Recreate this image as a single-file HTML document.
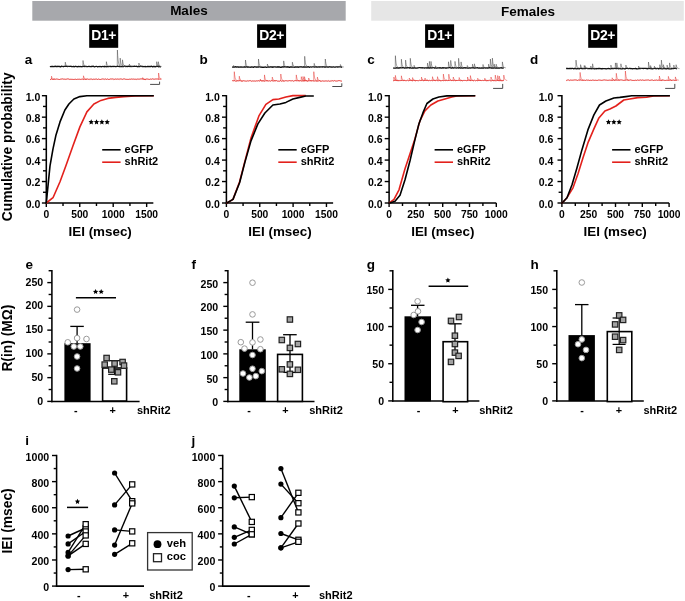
<!DOCTYPE html>
<html><head><meta charset="utf-8"><style>
html,body{margin:0;padding:0;background:#fff;}
svg{display:block;font-family:"Liberation Sans", sans-serif;filter:blur(0.3px);}
</style></head><body>
<svg width="685" height="601" viewBox="0 0 685 601">
<rect width="685" height="601" fill="#fff"/>
<rect x="32.3" y="1" width="313.4" height="19.7" fill="#a7a8ac"/>
<rect x="371.2" y="1" width="312.6" height="19.7" fill="#e6e6e6"/>
<text x="188.90" y="15.20" font-size="13.5" font-weight="bold" text-anchor="middle" fill="#000" >Males</text>
<text x="528.00" y="15.60" font-size="13.5" font-weight="bold" text-anchor="middle" fill="#000" >Females</text>
<rect x="89.2" y="24.3" width="29" height="23.5" fill="#000"/>
<text x="103.70" y="39.90" font-size="13.9" font-weight="bold" text-anchor="middle" fill="#fff" letter-spacing="-0.4">D1+</text>
<rect x="257.1" y="24.3" width="29" height="23.5" fill="#000"/>
<text x="271.60" y="39.90" font-size="13.9" font-weight="bold" text-anchor="middle" fill="#fff" letter-spacing="-0.4">D2+</text>
<rect x="425.1" y="24.3" width="29" height="23.5" fill="#000"/>
<text x="439.60" y="39.90" font-size="13.9" font-weight="bold" text-anchor="middle" fill="#fff" letter-spacing="-0.4">D1+</text>
<rect x="588.2" y="24.3" width="29" height="23.5" fill="#000"/>
<text x="602.70" y="39.90" font-size="13.9" font-weight="bold" text-anchor="middle" fill="#fff" letter-spacing="-0.4">D2+</text>
<polyline points="50.00,66.28 50.60,66.71 51.20,66.66 51.81,66.35 52.41,66.50 53.01,66.47 53.61,66.59 54.22,66.67 54.82,66.26 55.42,66.22 56.02,66.70 56.62,66.46 57.23,66.66 57.83,66.20 58.43,66.47 59.03,66.63 59.63,66.34 60.24,66.77 60.84,66.74 61.44,66.22 62.04,66.22 62.65,66.52 63.25,66.76 63.85,66.43 64.45,66.33 65.05,66.45 65.66,66.22 66.26,66.33 66.86,66.46 67.46,66.50 68.07,66.34 68.67,66.34 69.27,66.33 69.87,66.48 70.47,66.37 71.08,66.21 71.68,66.70 72.28,66.53 72.88,66.59 73.48,66.31 74.09,66.80 74.69,66.72 75.29,66.27 75.89,66.40 76.50,66.63 77.10,66.63 77.70,66.76 78.30,66.45 78.90,66.70 79.51,66.60 80.11,66.38 80.71,66.55 81.31,66.73 81.92,66.71 82.52,66.50 83.12,66.55 83.72,66.22 84.32,66.35 84.93,66.68 85.53,66.45 86.13,66.30 86.73,66.53 87.33,66.62 87.94,66.60 88.54,66.42 89.14,66.46 89.74,66.51 90.35,66.67 90.95,66.51 91.55,66.44 92.15,66.49 92.75,66.22 93.36,66.23 93.96,66.62 94.56,66.79 95.16,66.56 95.77,66.44 96.37,66.30 96.97,66.50 97.57,66.79 98.17,66.66 98.78,66.52 99.38,66.72 99.98,66.34 100.58,66.51 101.18,66.77 101.79,66.55 102.39,66.48 102.99,66.36 103.59,66.53 104.20,66.77 104.80,66.20 105.40,66.67 106.00,66.69 106.60,66.73 107.21,66.64 107.81,66.69 108.41,66.51 109.01,66.54 109.62,66.46 110.22,66.23 110.82,66.72 111.42,66.54 112.02,66.32 112.63,66.50 113.23,66.49 113.83,66.41 114.43,66.41 115.03,66.52 115.64,66.57 116.24,66.57 116.84,66.47 117.44,66.22 118.05,66.34 118.65,66.31 119.25,66.55 119.85,66.72 120.45,66.68 121.06,66.68 121.66,66.69 122.26,66.35 122.86,66.71 123.47,66.60 124.07,66.25 124.67,66.21 125.27,66.21 125.87,66.65 126.48,66.35 127.08,66.27 127.68,66.57 128.28,66.41 128.88,66.24 129.49,66.30 130.09,66.52 130.69,66.30 131.29,66.36 131.90,66.63 132.50,66.47 133.10,66.39 133.70,66.48 134.30,66.21 134.91,66.43 135.51,66.45 136.11,66.31 136.71,66.27 137.32,66.74 137.92,66.51 138.52,66.33 139.12,66.56 139.72,66.69 140.33,66.21 140.93,66.21 141.53,66.29 142.13,66.63 142.73,66.30 143.34,66.62 143.94,66.61 144.54,66.53 145.14,66.33 145.75,66.79 146.35,66.68 146.95,66.51 147.55,66.33 148.15,66.59 148.76,66.44 149.36,66.55 149.96,66.39 150.56,66.58 151.17,66.24 151.77,66.38 152.37,66.78 152.97,66.73 153.57,66.38 154.18,66.72 154.78,66.39 155.38,66.76 155.98,66.65 156.58,66.45 157.19,66.35 157.79,66.21 158.39,66.73 158.99,66.22 159.60,66.69 160.20,66.78 160.80,66.54" fill="none" stroke="#111" stroke-width="1.3" stroke-linejoin="round"/>
<polyline points="65.15,66.50 65.30,62.20 65.60,63.62 66.00,64.81 66.50,65.63 67.10,66.11 67.90,66.37 68.70,66.45" fill="none" stroke="#444" stroke-width="0.5" stroke-linejoin="miter"/>
<polyline points="82.85,66.50 83.00,60.50 83.30,62.48 83.70,64.14 84.20,65.29 84.80,65.96 85.60,66.31 86.40,66.44" fill="none" stroke="#444" stroke-width="0.5" stroke-linejoin="miter"/>
<polyline points="106.25,66.50 106.40,61.70 106.70,63.28 107.10,64.61 107.60,65.53 108.20,66.06 109.00,66.35 109.80,66.45" fill="none" stroke="#444" stroke-width="0.5" stroke-linejoin="miter"/>
<polyline points="117.25,66.50 117.40,50.00 117.70,55.44 118.10,60.01 118.60,63.17 119.20,65.00 120.00,65.98 120.80,66.32" fill="none" stroke="#444" stroke-width="0.5" stroke-linejoin="miter"/>
<polyline points="120.05,66.50 120.20,58.10 120.50,60.87 120.90,63.20 121.40,64.80 122.00,65.74 122.80,66.24 123.60,66.41" fill="none" stroke="#444" stroke-width="0.5" stroke-linejoin="miter"/>
<polyline points="122.35,66.50 122.50,59.80 122.80,62.01 123.20,63.87 123.70,65.15 124.30,65.89 125.10,66.29 125.90,66.43" fill="none" stroke="#444" stroke-width="0.5" stroke-linejoin="miter"/>
<polyline points="129.25,66.50 129.40,64.00 129.70,64.82 130.10,65.52 130.60,66.00 131.20,66.27 132.00,66.42 132.80,66.47" fill="none" stroke="#444" stroke-width="0.5" stroke-linejoin="miter"/>
<polyline points="138.75,66.50 138.90,63.00 139.20,64.15 139.60,65.12 140.10,65.79 140.70,66.18 141.50,66.39 142.30,66.46" fill="none" stroke="#444" stroke-width="0.5" stroke-linejoin="miter"/>
<polyline points="156.55,66.50 156.70,61.70 157.00,63.28 157.40,64.61 157.90,65.53 158.50,66.06 159.30,66.35 160.10,66.45" fill="none" stroke="#444" stroke-width="0.5" stroke-linejoin="miter"/>
<polyline points="158.15,66.50 158.30,61.70 158.60,63.28 159.00,64.61 159.50,65.53 160.10,66.06 160.90,66.35 161.70,66.45" fill="none" stroke="#444" stroke-width="0.5" stroke-linejoin="miter"/>
<polyline points="50.00,79.47 50.60,79.47 51.20,78.93 51.81,78.95 52.41,79.40 53.01,79.34 53.61,79.30 54.22,79.08 54.82,79.26 55.42,79.26 56.02,79.25 56.62,79.00 57.23,79.16 57.83,79.14 58.43,79.33 59.03,79.50 59.63,79.47 60.24,79.23 60.84,79.17 61.44,79.06 62.04,78.92 62.65,78.92 63.25,79.18 63.85,79.09 64.45,79.13 65.05,79.44 65.66,79.22 66.26,79.24 66.86,79.04 67.46,78.91 68.07,79.10 68.67,78.98 69.27,79.21 69.87,79.50 70.47,79.30 71.08,79.01 71.68,79.44 72.28,79.38 72.88,79.34 73.48,79.44 74.09,79.36 74.69,79.37 75.29,79.11 75.89,79.49 76.50,79.48 77.10,79.00 77.70,79.35 78.30,79.33 78.90,79.18 79.51,79.22 80.11,79.19 80.71,79.45 81.31,79.20 81.92,79.40 82.52,79.11 83.12,79.43 83.72,79.44 84.32,79.18 84.93,79.24 85.53,79.45 86.13,79.33 86.73,79.19 87.33,79.03 87.94,79.09 88.54,79.32 89.14,79.00 89.74,79.44 90.35,79.06 90.95,79.45 91.55,79.09 92.15,79.47 92.75,79.32 93.36,79.20 93.96,79.21 94.56,79.29 95.16,79.25 95.77,79.09 96.37,79.02 96.97,79.21 97.57,79.46 98.17,79.27 98.78,78.95 99.38,79.39 99.98,79.34 100.58,79.44 101.18,79.01 101.79,79.35 102.39,78.94 102.99,79.29 103.59,79.06 104.20,79.04 104.80,79.43 105.40,78.96 106.00,79.21 106.60,79.41 107.21,79.05 107.81,79.03 108.41,79.43 109.01,79.15 109.62,79.33 110.22,78.92 110.82,79.12 111.42,79.00 112.02,79.30 112.63,78.95 113.23,79.47 113.83,78.92 114.43,79.34 115.03,78.91 115.64,79.05 116.24,79.39 116.84,78.99 117.44,79.01 118.05,79.31 118.65,79.13 119.25,78.93 119.85,79.49 120.45,78.99 121.06,78.92 121.66,79.11 122.26,79.27 122.86,79.35 123.47,78.97 124.07,79.10 124.67,78.92 125.27,79.17 125.87,79.36 126.48,79.34 127.08,79.44 127.68,79.35 128.28,79.42 128.88,79.32 129.49,79.18 130.09,79.04 130.69,79.30 131.29,79.09 131.90,78.96 132.50,79.17 133.10,79.42 133.70,78.98 134.30,79.25 134.91,79.14 135.51,79.21 136.11,78.99 136.71,79.48 137.32,79.06 137.92,79.26 138.52,79.15 139.12,78.91 139.72,79.23 140.33,78.98 140.93,78.93 141.53,78.92 142.13,79.00 142.73,78.96 143.34,79.28 143.94,79.20 144.54,79.49 145.14,79.46 145.75,79.50 146.35,79.04 146.95,79.17 147.55,79.05 148.15,79.25 148.76,79.27 149.36,79.38 149.96,79.33 150.56,79.05 151.17,79.15 151.77,79.22 152.37,78.90 152.97,78.92 153.57,79.15 154.18,78.97 154.78,79.33 155.38,79.04 155.98,78.96 156.58,79.01 157.19,79.04 157.79,79.03 158.39,79.21 158.99,79.18 159.60,79.09 160.20,79.29 160.80,79.03" fill="none" stroke="#e3211c" stroke-width="0.95" stroke-linejoin="round"/>
<polyline points="51.35,79.20 51.50,76.20 51.80,77.19 52.20,78.02 52.70,78.59 53.30,78.93 54.10,79.11 54.90,79.17" fill="none" stroke="#e3211c" stroke-width="0.45" stroke-linejoin="miter"/>
<polyline points="83.35,79.20 83.50,75.80 83.80,76.92 84.20,77.86 84.70,78.51 85.30,78.89 86.10,79.09 86.90,79.16" fill="none" stroke="#e3211c" stroke-width="0.45" stroke-linejoin="miter"/>
<polyline points="142.55,79.20 142.70,77.60 143.00,78.13 143.40,78.57 143.90,78.88 144.50,79.05 145.30,79.15 146.10,79.18" fill="none" stroke="#e3211c" stroke-width="0.45" stroke-linejoin="miter"/>
<polyline points="158.45,79.20 158.60,73.00 158.90,75.04 159.30,76.76 159.80,77.95 160.40,78.64 161.20,79.01 162.00,79.13" fill="none" stroke="#e3211c" stroke-width="0.45" stroke-linejoin="miter"/>
<polyline points="150.1,84.4 159.6,84.4 159.6,81.6" fill="none" stroke="#4a4a4a" stroke-width="1"/>
<polyline points="232.10,66.84 232.70,67.03 233.30,66.92 233.90,67.06 234.50,67.08 235.10,66.74 235.70,66.71 236.30,67.20 236.90,66.86 237.50,66.84 238.11,67.30 238.71,66.98 239.31,67.20 239.91,66.99 240.51,67.08 241.11,66.79 241.71,67.08 242.31,67.22 242.91,67.01 243.51,67.14 244.11,67.10 244.71,66.74 245.31,67.15 245.91,67.05 246.51,66.88 247.11,66.72 247.71,67.22 248.31,66.98 248.92,67.13 249.52,67.23 250.12,67.13 250.72,67.25 251.32,66.94 251.92,67.18 252.52,66.97 253.12,67.26 253.72,67.23 254.32,66.76 254.92,66.78 255.52,66.83 256.12,67.28 256.72,66.96 257.32,67.08 257.92,66.88 258.52,67.00 259.12,66.93 259.73,66.91 260.33,67.05 260.93,67.05 261.53,67.24 262.13,67.11 262.73,67.26 263.33,67.21 263.93,67.29 264.53,67.10 265.13,66.80 265.73,67.22 266.33,67.28 266.93,67.24 267.53,67.04 268.13,67.13 268.73,66.83 269.33,67.20 269.93,67.04 270.53,66.87 271.14,66.74 271.74,67.21 272.34,67.29 272.94,66.75 273.54,67.18 274.14,66.95 274.74,66.79 275.34,66.88 275.94,67.16 276.54,67.22 277.14,66.73 277.74,67.07 278.34,66.73 278.94,67.13 279.54,66.90 280.14,67.23 280.74,67.29 281.34,67.00 281.95,67.30 282.55,66.89 283.15,66.75 283.75,67.06 284.35,66.72 284.95,66.82 285.55,66.94 286.15,67.07 286.75,66.79 287.35,66.73 287.95,67.22 288.55,66.89 289.15,67.28 289.75,67.24 290.35,66.93 290.95,66.98 291.55,67.01 292.15,67.09 292.76,67.06 293.36,67.04 293.96,67.07 294.56,67.26 295.16,67.00 295.76,66.96 296.36,67.13 296.96,66.84 297.56,66.88 298.16,67.29 298.76,67.01 299.36,67.03 299.96,66.71 300.56,66.95 301.16,67.05 301.76,66.71 302.36,67.07 302.96,67.08 303.57,66.74 304.17,67.08 304.77,66.98 305.37,67.11 305.97,66.91 306.57,67.12 307.17,67.14 307.77,66.71 308.37,66.74 308.97,67.11 309.57,67.28 310.17,66.85 310.77,66.97 311.37,67.06 311.97,66.89 312.57,66.92 313.17,66.89 313.77,66.92 314.37,67.06 314.98,66.88 315.58,66.93 316.18,67.16 316.78,66.72 317.38,67.04 317.98,67.14 318.58,66.89 319.18,66.83 319.78,67.18 320.38,66.84 320.98,66.81 321.58,66.96 322.18,67.12 322.78,66.76 323.38,66.89 323.98,66.90 324.58,67.20 325.18,66.96 325.79,67.21 326.39,66.80 326.99,66.90 327.59,67.09 328.19,67.23 328.79,66.97 329.39,66.84 329.99,66.77 330.59,67.02 331.19,66.81 331.79,67.18 332.39,67.20 332.99,66.81 333.59,66.87 334.19,67.18 334.79,67.09 335.39,67.18 335.99,66.91 336.60,66.78 337.20,66.88 337.80,67.18 338.40,66.86 339.00,66.91 339.60,66.95 340.20,66.95 340.80,66.95 341.40,67.25 342.00,66.79" fill="none" stroke="#111" stroke-width="1.3" stroke-linejoin="round"/>
<polyline points="233.45,67.00 233.60,65.40 233.90,65.93 234.30,66.37 234.80,66.68 235.40,66.85 236.20,66.95 237.00,66.98" fill="none" stroke="#444" stroke-width="0.5" stroke-linejoin="miter"/>
<polyline points="245.35,67.00 245.50,60.00 245.80,62.31 246.20,64.25 246.70,65.59 247.30,66.36 248.10,66.78 248.90,66.92" fill="none" stroke="#444" stroke-width="0.5" stroke-linejoin="miter"/>
<polyline points="258.35,67.00 258.50,59.00 258.80,61.64 259.20,63.85 259.70,65.38 260.30,66.27 261.10,66.75 261.90,66.91" fill="none" stroke="#444" stroke-width="0.5" stroke-linejoin="miter"/>
<polyline points="267.25,67.00 267.40,64.00 267.70,64.99 268.10,65.82 268.60,66.39 269.20,66.73 270.00,66.91 270.80,66.97" fill="none" stroke="#444" stroke-width="0.5" stroke-linejoin="miter"/>
<polyline points="283.55,67.00 283.70,60.90 284.00,62.91 284.40,64.60 284.90,65.77 285.50,66.45 286.30,66.81 287.10,66.93" fill="none" stroke="#444" stroke-width="0.5" stroke-linejoin="miter"/>
<polyline points="292.25,67.00 292.40,62.20 292.70,63.78 293.10,65.11 293.60,66.03 294.20,66.56 295.00,66.85 295.80,66.95" fill="none" stroke="#444" stroke-width="0.5" stroke-linejoin="miter"/>
<polyline points="304.55,67.00 304.70,56.30 305.00,59.83 305.40,62.79 305.90,64.84 306.50,66.03 307.30,66.67 308.10,66.89" fill="none" stroke="#444" stroke-width="0.5" stroke-linejoin="miter"/>
<polyline points="314.05,67.00 314.20,63.40 314.50,64.59 314.90,65.58 315.40,66.27 316.00,66.67 316.80,66.89 317.60,66.96" fill="none" stroke="#444" stroke-width="0.5" stroke-linejoin="miter"/>
<polyline points="325.15,67.00 325.30,59.00 325.60,61.64 326.00,63.85 326.50,65.38 327.10,66.27 327.90,66.75 328.70,66.91" fill="none" stroke="#444" stroke-width="0.5" stroke-linejoin="miter"/>
<polyline points="340.25,67.00 340.40,64.50 340.70,65.32 341.10,66.02 341.60,66.50 342.20,66.77 343.00,66.92 343.80,66.97" fill="none" stroke="#444" stroke-width="0.5" stroke-linejoin="miter"/>
<polyline points="232.10,80.74 232.70,80.66 233.30,80.84 233.90,80.69 234.50,80.64 235.10,80.84 235.70,81.15 236.30,81.08 236.90,81.06 237.50,80.73 238.11,80.92 238.71,80.77 239.31,80.70 239.91,80.66 240.51,80.73 241.11,81.16 241.71,81.10 242.31,81.08 242.91,81.08 243.51,80.72 244.11,80.79 244.71,80.98 245.31,81.04 245.91,81.11 246.51,81.13 247.11,80.65 247.71,80.96 248.31,81.00 248.92,80.90 249.52,80.71 250.12,80.88 250.72,80.65 251.32,81.16 251.92,81.12 252.52,80.93 253.12,80.78 253.72,81.15 254.32,80.94 254.92,81.13 255.52,81.11 256.12,80.91 256.72,80.85 257.32,80.96 257.92,80.86 258.52,80.70 259.12,80.78 259.73,81.09 260.33,80.63 260.93,80.63 261.53,80.98 262.13,80.77 262.73,80.92 263.33,80.88 263.93,80.81 264.53,81.20 265.13,80.72 265.73,80.85 266.33,80.72 266.93,80.98 267.53,80.77 268.13,80.81 268.73,81.05 269.33,80.79 269.93,80.94 270.53,81.14 271.14,80.66 271.74,80.64 272.34,80.74 272.94,81.06 273.54,80.97 274.14,80.74 274.74,80.80 275.34,80.71 275.94,80.88 276.54,80.63 277.14,81.02 277.74,81.14 278.34,81.17 278.94,81.04 279.54,81.18 280.14,80.61 280.74,80.77 281.34,81.18 281.95,81.07 282.55,80.85 283.15,81.17 283.75,80.97 284.35,81.09 284.95,80.78 285.55,80.71 286.15,80.87 286.75,80.68 287.35,80.83 287.95,81.18 288.55,80.80 289.15,80.61 289.75,80.63 290.35,80.70 290.95,81.07 291.55,80.82 292.15,80.77 292.76,80.66 293.36,81.19 293.96,80.85 294.56,80.72 295.16,80.64 295.76,80.63 296.36,80.70 296.96,81.01 297.56,80.69 298.16,80.62 298.76,80.89 299.36,80.75 299.96,81.20 300.56,80.67 301.16,80.92 301.76,81.06 302.36,80.85 302.96,81.19 303.57,80.89 304.17,80.75 304.77,80.85 305.37,80.62 305.97,80.85 306.57,80.75 307.17,81.13 307.77,81.10 308.37,80.90 308.97,80.62 309.57,80.75 310.17,80.75 310.77,80.72 311.37,80.74 311.97,81.12 312.57,80.69 313.17,80.63 313.77,81.16 314.37,80.94 314.98,81.19 315.58,80.84 316.18,81.14 316.78,80.99 317.38,81.07 317.98,81.05 318.58,80.90 319.18,80.66 319.78,80.73 320.38,81.12 320.98,81.14 321.58,81.15 322.18,80.80 322.78,80.99 323.38,81.08 323.98,80.99 324.58,81.09 325.18,80.92 325.79,80.99 326.39,81.01 326.99,80.76 327.59,81.15 328.19,81.17 328.79,80.64 329.39,81.18 329.99,81.18 330.59,81.00 331.19,80.63 331.79,81.14 332.39,80.68 332.99,81.18 333.59,81.00 334.19,80.64 334.79,80.70 335.39,80.98 335.99,80.94 336.60,81.05 337.20,81.16 337.80,80.73 338.40,80.60 339.00,81.15 339.60,80.61 340.20,81.13 340.80,80.67 341.40,81.09 342.00,81.07" fill="none" stroke="#e3211c" stroke-width="0.95" stroke-linejoin="round"/>
<polyline points="234.15,80.90 234.30,71.70 234.60,74.73 235.00,77.28 235.50,79.04 236.10,80.07 236.90,80.61 237.70,80.80" fill="none" stroke="#e3211c" stroke-width="0.45" stroke-linejoin="miter"/>
<polyline points="239.15,80.90 239.30,76.20 239.60,77.75 240.00,79.05 240.50,79.95 241.10,80.47 241.90,80.75 242.70,80.85" fill="none" stroke="#e3211c" stroke-width="0.45" stroke-linejoin="miter"/>
<polyline points="260.15,80.90 260.30,79.00 260.60,79.63 261.00,80.15 261.50,80.52 262.10,80.73 262.90,80.84 263.70,80.88" fill="none" stroke="#e3211c" stroke-width="0.45" stroke-linejoin="miter"/>
<polyline points="264.35,80.90 264.50,74.90 264.80,76.88 265.20,78.54 265.70,79.69 266.30,80.36 267.10,80.71 267.90,80.84" fill="none" stroke="#e3211c" stroke-width="0.45" stroke-linejoin="miter"/>
<polyline points="272.15,80.90 272.30,77.10 272.60,78.35 273.00,79.41 273.50,80.13 274.10,80.56 274.90,80.78 275.70,80.86" fill="none" stroke="#e3211c" stroke-width="0.45" stroke-linejoin="miter"/>
<polyline points="280.65,80.90 280.80,74.00 281.10,76.27 281.50,78.19 282.00,79.51 282.60,80.27 283.40,80.68 284.20,80.83" fill="none" stroke="#e3211c" stroke-width="0.45" stroke-linejoin="miter"/>
<polyline points="296.15,80.90 296.30,74.90 296.60,76.88 297.00,78.54 297.50,79.69 298.10,80.36 298.90,80.71 299.70,80.84" fill="none" stroke="#e3211c" stroke-width="0.45" stroke-linejoin="miter"/>
<polyline points="301.15,80.90 301.30,76.70 301.60,78.08 302.00,79.25 302.50,80.05 303.10,80.52 303.90,80.77 304.70,80.85" fill="none" stroke="#e3211c" stroke-width="0.45" stroke-linejoin="miter"/>
<polyline points="302.85,80.90 303.00,76.50 303.30,77.95 303.70,79.17 304.20,80.01 304.80,80.50 305.60,80.76 306.40,80.85" fill="none" stroke="#e3211c" stroke-width="0.45" stroke-linejoin="miter"/>
<polyline points="304.35,80.90 304.50,76.70 304.80,78.08 305.20,79.25 305.70,80.05 306.30,80.52 307.10,80.77 307.90,80.85" fill="none" stroke="#e3211c" stroke-width="0.45" stroke-linejoin="miter"/>
<polyline points="308.55,80.90 308.70,78.00 309.00,78.96 309.40,79.76 309.90,80.31 310.50,80.64 311.30,80.81 312.10,80.87" fill="none" stroke="#e3211c" stroke-width="0.45" stroke-linejoin="miter"/>
<polyline points="313.65,80.90 313.80,71.70 314.10,74.73 314.50,77.28 315.00,79.04 315.60,80.07 316.40,80.61 317.20,80.80" fill="none" stroke="#e3211c" stroke-width="0.45" stroke-linejoin="miter"/>
<polyline points="317.25,80.90 317.40,77.10 317.70,78.35 318.10,79.41 318.60,80.13 319.20,80.56 320.00,80.78 320.80,80.86" fill="none" stroke="#e3211c" stroke-width="0.45" stroke-linejoin="miter"/>
<polyline points="332.3,86.5 341.8,86.5 341.8,83.3" fill="none" stroke="#4a4a4a" stroke-width="1"/>
<polyline points="393.10,67.97 393.70,68.05 394.30,68.08 394.90,68.17 395.51,68.04 396.11,68.15 396.71,67.62 397.31,67.88 397.91,68.17 398.51,67.99 399.12,68.14 399.72,67.67 400.32,67.88 400.92,67.75 401.52,67.93 402.12,67.94 402.73,67.61 403.33,67.73 403.93,67.77 404.53,68.15 405.13,68.06 405.73,67.70 406.34,68.08 406.94,67.68 407.54,67.97 408.14,67.68 408.74,67.60 409.34,68.12 409.95,67.73 410.55,67.73 411.15,68.19 411.75,68.12 412.35,67.77 412.95,68.18 413.56,67.92 414.16,68.01 414.76,67.72 415.36,68.16 415.96,68.01 416.56,68.18 417.17,68.14 417.77,67.78 418.37,67.82 418.97,67.70 419.57,67.69 420.17,67.64 420.78,67.78 421.38,67.96 421.98,67.60 422.58,68.01 423.18,67.80 423.78,67.79 424.38,68.09 424.99,67.89 425.59,67.79 426.19,67.89 426.79,68.02 427.39,67.63 427.99,68.19 428.60,67.61 429.20,68.05 429.80,68.11 430.40,67.61 431.00,68.07 431.60,67.82 432.21,67.95 432.81,67.61 433.41,67.63 434.01,67.71 434.61,68.17 435.21,67.72 435.82,68.05 436.42,68.16 437.02,68.17 437.62,67.81 438.22,67.81 438.82,67.91 439.43,68.07 440.03,67.66 440.63,68.05 441.23,68.08 441.83,68.12 442.43,67.62 443.04,68.17 443.64,67.65 444.24,67.80 444.84,67.97 445.44,68.15 446.04,67.80 446.65,68.15 447.25,67.93 447.85,67.79 448.45,67.79 449.05,67.71 449.65,67.65 450.25,67.69 450.86,68.01 451.46,68.20 452.06,67.70 452.66,67.63 453.26,68.19 453.86,67.92 454.47,67.84 455.07,67.74 455.67,67.96 456.27,68.10 456.87,67.87 457.47,67.85 458.08,67.63 458.68,68.15 459.28,67.62 459.88,67.90 460.48,68.10 461.08,67.68 461.69,68.04 462.29,68.17 462.89,67.98 463.49,68.07 464.09,67.66 464.69,67.86 465.30,67.69 465.90,68.11 466.50,67.78 467.10,67.87 467.70,68.20 468.30,68.11 468.91,68.19 469.51,67.87 470.11,67.89 470.71,68.04 471.31,67.89 471.91,67.77 472.52,67.84 473.12,67.69 473.72,67.83 474.32,68.19 474.92,68.18 475.52,67.98 476.12,67.90 476.73,67.80 477.33,67.65 477.93,67.76 478.53,68.07 479.13,68.12 479.73,67.82 480.34,68.07 480.94,68.06 481.54,68.02 482.14,68.00 482.74,68.06 483.34,67.82 483.95,68.02 484.55,67.77 485.15,67.89 485.75,68.06 486.35,68.01 486.95,67.78 487.56,68.17 488.16,67.99 488.76,67.95 489.36,67.61 489.96,67.93 490.56,67.75 491.17,68.00 491.77,67.88 492.37,68.09 492.97,67.99 493.57,68.08 494.17,67.81 494.78,67.99 495.38,68.04 495.98,68.10 496.58,67.81 497.18,68.11 497.78,68.12 498.39,68.01 498.99,68.19 499.59,68.17 500.19,67.91 500.79,67.92 501.39,67.70 502.00,68.10 502.60,68.16 503.20,67.89 503.80,68.01" fill="none" stroke="#111" stroke-width="1.3" stroke-linejoin="round"/>
<polyline points="395.25,67.90 395.40,55.70 395.70,59.72 396.10,63.10 396.60,65.44 397.20,66.79 398.00,67.52 398.80,67.77" fill="none" stroke="#444" stroke-width="0.5" stroke-linejoin="miter"/>
<polyline points="401.25,67.90 401.40,59.20 401.70,62.07 402.10,64.48 402.60,66.14 403.20,67.11 404.00,67.63 404.80,67.81" fill="none" stroke="#444" stroke-width="0.5" stroke-linejoin="miter"/>
<polyline points="405.45,67.90 405.60,60.10 405.90,62.67 406.30,64.83 406.80,66.33 407.40,67.19 408.20,67.66 409.00,67.82" fill="none" stroke="#444" stroke-width="0.5" stroke-linejoin="miter"/>
<polyline points="410.15,67.90 410.30,58.30 410.60,61.46 411.00,64.12 411.50,65.96 412.10,67.03 412.90,67.60 413.70,67.80" fill="none" stroke="#444" stroke-width="0.5" stroke-linejoin="miter"/>
<polyline points="413.95,67.90 414.10,65.30 414.40,66.16 414.80,66.88 415.30,67.38 415.90,67.66 416.70,67.82 417.50,67.87" fill="none" stroke="#444" stroke-width="0.5" stroke-linejoin="miter"/>
<polyline points="427.35,67.90 427.50,63.10 427.80,64.68 428.20,66.01 428.70,66.93 429.30,67.46 430.10,67.75 430.90,67.85" fill="none" stroke="#444" stroke-width="0.5" stroke-linejoin="miter"/>
<polyline points="429.25,67.90 429.40,61.40 429.70,63.54 430.10,65.34 430.60,66.59 431.20,67.31 432.00,67.70 432.80,67.83" fill="none" stroke="#444" stroke-width="0.5" stroke-linejoin="miter"/>
<polyline points="430.85,67.90 431.00,61.40 431.30,63.54 431.70,65.34 432.20,66.59 432.80,67.31 433.60,67.70 434.40,67.83" fill="none" stroke="#444" stroke-width="0.5" stroke-linejoin="miter"/>
<polyline points="435.35,67.90 435.50,65.80 435.80,66.49 436.20,67.07 436.70,67.48 437.30,67.71 438.10,67.83 438.90,67.88" fill="none" stroke="#444" stroke-width="0.5" stroke-linejoin="miter"/>
<polyline points="448.35,67.90 448.50,61.80 448.80,63.81 449.20,65.50 449.70,66.67 450.30,67.35 451.10,67.71 451.90,67.83" fill="none" stroke="#444" stroke-width="0.5" stroke-linejoin="miter"/>
<polyline points="450.55,67.90 450.70,60.40 451.00,62.87 451.40,64.95 451.90,66.39 452.50,67.22 453.30,67.67 454.10,67.82" fill="none" stroke="#444" stroke-width="0.5" stroke-linejoin="miter"/>
<polyline points="454.85,67.90 455.00,61.40 455.30,63.54 455.70,65.34 456.20,66.59 456.80,67.31 457.60,67.70 458.40,67.83" fill="none" stroke="#444" stroke-width="0.5" stroke-linejoin="miter"/>
<polyline points="458.45,67.90 458.60,58.30 458.90,61.46 459.30,64.12 459.80,65.96 460.40,67.03 461.20,67.60 462.00,67.80" fill="none" stroke="#444" stroke-width="0.5" stroke-linejoin="miter"/>
<polyline points="460.95,67.90 461.10,61.90 461.40,63.88 461.80,65.54 462.30,66.69 462.90,67.36 463.70,67.71 464.50,67.84" fill="none" stroke="#444" stroke-width="0.5" stroke-linejoin="miter"/>
<polyline points="467.15,67.90 467.30,65.50 467.60,66.29 468.00,66.96 468.50,67.42 469.10,67.68 469.90,67.83 470.70,67.87" fill="none" stroke="#444" stroke-width="0.5" stroke-linejoin="miter"/>
<polyline points="472.35,67.90 472.50,64.20 472.80,65.42 473.20,66.45 473.70,67.15 474.30,67.56 475.10,67.78 475.90,67.86" fill="none" stroke="#444" stroke-width="0.5" stroke-linejoin="miter"/>
<polyline points="474.25,67.90 474.40,63.80 474.70,65.15 475.10,66.29 475.60,67.07 476.20,67.53 477.00,67.77 477.80,67.86" fill="none" stroke="#444" stroke-width="0.5" stroke-linejoin="miter"/>
<polyline points="482.85,67.90 483.00,64.50 483.30,65.62 483.70,66.56 484.20,67.21 484.80,67.59 485.60,67.79 486.40,67.86" fill="none" stroke="#444" stroke-width="0.5" stroke-linejoin="miter"/>
<polyline points="488.45,67.90 488.60,64.20 488.90,65.42 489.30,66.45 489.80,67.15 490.40,67.56 491.20,67.78 492.00,67.86" fill="none" stroke="#444" stroke-width="0.5" stroke-linejoin="miter"/>
<polyline points="490.25,67.90 490.40,59.00 490.70,61.93 491.10,64.40 491.60,66.10 492.20,67.09 493.00,67.62 493.80,67.80" fill="none" stroke="#444" stroke-width="0.5" stroke-linejoin="miter"/>
<polyline points="492.25,67.90 492.40,58.10 492.70,61.33 493.10,64.05 493.60,65.92 494.20,67.01 495.00,67.59 495.80,67.79" fill="none" stroke="#444" stroke-width="0.5" stroke-linejoin="miter"/>
<polyline points="494.15,67.90 494.30,64.20 494.60,65.42 495.00,66.45 495.50,67.15 496.10,67.56 496.90,67.78 497.70,67.86" fill="none" stroke="#444" stroke-width="0.5" stroke-linejoin="miter"/>
<polyline points="496.05,67.90 496.20,64.20 496.50,65.42 496.90,66.45 497.40,67.15 498.00,67.56 498.80,67.78 499.60,67.86" fill="none" stroke="#444" stroke-width="0.5" stroke-linejoin="miter"/>
<polyline points="502.25,67.90 502.40,61.90 502.70,63.88 503.10,65.54 503.60,66.69 504.20,67.36 505.00,67.71 505.80,67.84" fill="none" stroke="#444" stroke-width="0.5" stroke-linejoin="miter"/>
<polyline points="393.10,80.68 393.70,80.69 394.30,80.49 394.90,80.36 395.51,80.20 396.11,80.60 396.71,80.48 397.31,80.66 397.91,80.42 398.51,80.66 399.12,80.36 399.72,80.68 400.32,80.64 400.92,80.45 401.52,80.52 402.12,80.61 402.73,80.32 403.33,80.53 403.93,80.68 404.53,80.36 405.13,80.68 405.73,80.61 406.34,80.71 406.94,80.40 407.54,80.26 408.14,80.68 408.74,80.68 409.34,80.47 409.95,80.26 410.55,80.32 411.15,80.58 411.75,80.37 412.35,80.77 412.95,80.55 413.56,80.32 414.16,80.59 414.76,80.42 415.36,80.76 415.96,80.75 416.56,80.51 417.17,80.59 417.77,80.62 418.37,80.68 418.97,80.79 419.57,80.22 420.17,80.42 420.78,80.56 421.38,80.38 421.98,80.55 422.58,80.25 423.18,80.73 423.78,80.52 424.38,80.27 424.99,80.60 425.59,80.39 426.19,80.32 426.79,80.49 427.39,80.28 427.99,80.33 428.60,80.72 429.20,80.62 429.80,80.21 430.40,80.67 431.00,80.21 431.60,80.40 432.21,80.74 432.81,80.57 433.41,80.38 434.01,80.43 434.61,80.43 435.21,80.28 435.82,80.80 436.42,80.23 437.02,80.45 437.62,80.65 438.22,80.44 438.82,80.79 439.43,80.35 440.03,80.79 440.63,80.74 441.23,80.60 441.83,80.73 442.43,80.47 443.04,80.70 443.64,80.68 444.24,80.51 444.84,80.48 445.44,80.62 446.04,80.45 446.65,80.25 447.25,80.65 447.85,80.36 448.45,80.49 449.05,80.67 449.65,80.30 450.25,80.21 450.86,80.27 451.46,80.55 452.06,80.42 452.66,80.35 453.26,80.47 453.86,80.76 454.47,80.35 455.07,80.45 455.67,80.73 456.27,80.57 456.87,80.36 457.47,80.48 458.08,80.49 458.68,80.29 459.28,80.43 459.88,80.38 460.48,80.68 461.08,80.39 461.69,80.60 462.29,80.78 462.89,80.75 463.49,80.43 464.09,80.56 464.69,80.39 465.30,80.44 465.90,80.49 466.50,80.68 467.10,80.76 467.70,80.37 468.30,80.20 468.91,80.47 469.51,80.23 470.11,80.22 470.71,80.66 471.31,80.27 471.91,80.63 472.52,80.42 473.12,80.76 473.72,80.71 474.32,80.24 474.92,80.32 475.52,80.77 476.12,80.57 476.73,80.45 477.33,80.67 477.93,80.69 478.53,80.50 479.13,80.48 479.73,80.26 480.34,80.42 480.94,80.29 481.54,80.58 482.14,80.56 482.74,80.29 483.34,80.58 483.95,80.26 484.55,80.26 485.15,80.59 485.75,80.48 486.35,80.74 486.95,80.58 487.56,80.62 488.16,80.28 488.76,80.70 489.36,80.25 489.96,80.57 490.56,80.75 491.17,80.74 491.77,80.74 492.37,80.47 492.97,80.62 493.57,80.67 494.17,80.28 494.78,80.77 495.38,80.75 495.98,80.46 496.58,80.67 497.18,80.47 497.78,80.37 498.39,80.63 498.99,80.24 499.59,80.68 500.19,80.79 500.79,80.37 501.39,80.76 502.00,80.25 502.60,80.71 503.20,80.37 503.80,80.78" fill="none" stroke="#e3211c" stroke-width="0.95" stroke-linejoin="round"/>
<polyline points="393.75,80.50 393.90,77.10 394.20,78.22 394.60,79.16 395.10,79.81 395.70,80.19 396.50,80.39 397.30,80.46" fill="none" stroke="#e3211c" stroke-width="0.45" stroke-linejoin="miter"/>
<polyline points="395.25,80.50 395.40,75.40 395.70,77.08 396.10,78.49 396.60,79.47 397.20,80.04 398.00,80.34 398.80,80.45" fill="none" stroke="#e3211c" stroke-width="0.45" stroke-linejoin="miter"/>
<polyline points="401.25,80.50 401.40,75.80 401.70,77.35 402.10,78.65 402.60,79.55 403.20,80.07 404.00,80.35 404.80,80.45" fill="none" stroke="#e3211c" stroke-width="0.45" stroke-linejoin="miter"/>
<polyline points="409.15,80.50 409.30,78.00 409.60,78.82 410.00,79.52 410.50,80.00 411.10,80.27 411.90,80.42 412.70,80.47" fill="none" stroke="#e3211c" stroke-width="0.45" stroke-linejoin="miter"/>
<polyline points="412.45,80.50 412.60,77.60 412.90,78.56 413.30,79.36 413.80,79.91 414.40,80.24 415.20,80.41 416.00,80.47" fill="none" stroke="#e3211c" stroke-width="0.45" stroke-linejoin="miter"/>
<polyline points="421.35,80.50 421.50,77.10 421.80,78.22 422.20,79.16 422.70,79.81 423.30,80.19 424.10,80.39 424.90,80.46" fill="none" stroke="#e3211c" stroke-width="0.45" stroke-linejoin="miter"/>
<polyline points="424.85,80.50 425.00,78.00 425.30,78.82 425.70,79.52 426.20,80.00 426.80,80.27 427.60,80.42 428.40,80.47" fill="none" stroke="#e3211c" stroke-width="0.45" stroke-linejoin="miter"/>
<polyline points="432.35,80.50 432.50,76.70 432.80,77.95 433.20,79.01 433.70,79.73 434.30,80.16 435.10,80.38 435.90,80.46" fill="none" stroke="#e3211c" stroke-width="0.45" stroke-linejoin="miter"/>
<polyline points="437.35,80.50 437.50,76.70 437.80,77.95 438.20,79.01 438.70,79.73 439.30,80.16 440.10,80.38 440.90,80.46" fill="none" stroke="#e3211c" stroke-width="0.45" stroke-linejoin="miter"/>
<polyline points="443.25,80.50 443.40,74.10 443.70,76.21 444.10,77.98 444.60,79.21 445.20,79.92 446.00,80.30 446.80,80.43" fill="none" stroke="#e3211c" stroke-width="0.45" stroke-linejoin="miter"/>
<polyline points="448.65,80.50 448.80,74.20 449.10,76.28 449.50,78.02 450.00,79.23 450.60,79.93 451.40,80.30 452.20,80.43" fill="none" stroke="#e3211c" stroke-width="0.45" stroke-linejoin="miter"/>
<polyline points="453.15,80.50 453.30,77.00 453.60,78.15 454.00,79.12 454.50,79.79 455.10,80.18 455.90,80.39 456.70,80.46" fill="none" stroke="#e3211c" stroke-width="0.45" stroke-linejoin="miter"/>
<polyline points="459.05,80.50 459.20,77.50 459.50,78.49 459.90,79.32 460.40,79.89 461.00,80.23 461.80,80.41 462.60,80.47" fill="none" stroke="#e3211c" stroke-width="0.45" stroke-linejoin="miter"/>
<polyline points="467.45,80.50 467.60,77.00 467.90,78.15 468.30,79.12 468.80,79.79 469.40,80.18 470.20,80.39 471.00,80.46" fill="none" stroke="#e3211c" stroke-width="0.45" stroke-linejoin="miter"/>
<polyline points="470.25,80.50 470.40,75.60 470.70,77.22 471.10,78.57 471.60,79.51 472.20,80.06 473.00,80.35 473.80,80.45" fill="none" stroke="#e3211c" stroke-width="0.45" stroke-linejoin="miter"/>
<polyline points="477.55,80.50 477.70,78.20 478.00,78.96 478.40,79.60 478.90,80.04 479.50,80.29 480.30,80.43 481.10,80.48" fill="none" stroke="#e3211c" stroke-width="0.45" stroke-linejoin="miter"/>
<polyline points="484.65,80.50 484.80,78.20 485.10,78.96 485.50,79.60 486.00,80.04 486.60,80.29 487.40,80.43 488.20,80.48" fill="none" stroke="#e3211c" stroke-width="0.45" stroke-linejoin="miter"/>
<polyline points="490.85,80.50 491.00,77.00 491.30,78.15 491.70,79.12 492.20,79.79 492.80,80.18 493.60,80.39 494.40,80.46" fill="none" stroke="#e3211c" stroke-width="0.45" stroke-linejoin="miter"/>
<polyline points="495.15,80.50 495.30,75.10 495.60,76.88 496.00,78.38 496.50,79.41 497.10,80.01 497.90,80.33 498.70,80.44" fill="none" stroke="#e3211c" stroke-width="0.45" stroke-linejoin="miter"/>
<polyline points="497.55,80.50 497.70,75.60 498.00,77.22 498.40,78.57 498.90,79.51 499.50,80.06 500.30,80.35 501.10,80.45" fill="none" stroke="#e3211c" stroke-width="0.45" stroke-linejoin="miter"/>
<polyline points="499.15,80.50 499.30,76.10 499.60,77.55 500.00,78.77 500.50,79.61 501.10,80.10 501.90,80.36 502.70,80.45" fill="none" stroke="#e3211c" stroke-width="0.45" stroke-linejoin="miter"/>
<polyline points="503.65,80.50 503.80,75.10 504.10,76.88 504.50,78.38 505.00,79.41 505.60,80.01 506.40,80.33 507.20,80.44" fill="none" stroke="#e3211c" stroke-width="0.45" stroke-linejoin="miter"/>
<polyline points="493.1,88.4 502.7,88.4 502.7,83.9" fill="none" stroke="#4a4a4a" stroke-width="1"/>
<polyline points="566.10,68.49 566.70,68.39 567.31,68.69 567.91,68.34 568.51,68.62 569.11,68.52 569.72,68.33 570.32,68.60 570.92,68.32 571.52,68.56 572.13,68.34 572.73,68.35 573.33,68.55 573.94,68.80 574.54,68.37 575.14,68.43 575.74,68.68 576.35,68.87 576.95,68.65 577.55,68.54 578.15,68.89 578.76,68.33 579.36,68.82 579.96,68.47 580.57,68.39 581.17,68.37 581.77,68.49 582.37,68.79 582.98,68.41 583.58,68.65 584.18,68.68 584.78,68.52 585.39,68.63 585.99,68.34 586.59,68.34 587.20,68.42 587.80,68.71 588.40,68.56 589.00,68.49 589.61,68.65 590.21,68.57 590.81,68.48 591.41,68.78 592.02,68.72 592.62,68.45 593.22,68.64 593.83,68.62 594.43,68.83 595.03,68.74 595.63,68.47 596.24,68.89 596.84,68.37 597.44,68.55 598.04,68.75 598.65,68.39 599.25,68.59 599.85,68.32 600.45,68.70 601.06,68.76 601.66,68.64 602.26,68.83 602.87,68.49 603.47,68.72 604.07,68.66 604.67,68.65 605.28,68.57 605.88,68.80 606.48,68.87 607.08,68.58 607.69,68.70 608.29,68.34 608.89,68.72 609.50,68.69 610.10,68.90 610.70,68.79 611.30,68.47 611.91,68.53 612.51,68.70 613.11,68.31 613.71,68.58 614.32,68.40 614.92,68.37 615.52,68.34 616.13,68.76 616.73,68.38 617.33,68.45 617.93,68.53 618.54,68.82 619.14,68.35 619.74,68.57 620.34,68.63 620.95,68.83 621.55,68.79 622.15,68.82 622.76,68.47 623.36,68.55 623.96,68.52 624.56,68.83 625.17,68.87 625.77,68.39 626.37,68.41 626.97,68.44 627.58,68.44 628.18,68.59 628.78,68.65 629.39,68.46 629.99,68.30 630.59,68.55 631.19,68.52 631.80,68.64 632.40,68.87 633.00,68.71 633.60,68.61 634.21,68.67 634.81,68.71 635.41,68.33 636.02,68.84 636.62,68.77 637.22,68.82 637.82,68.78 638.43,68.54 639.03,68.54 639.63,68.36 640.23,68.68 640.84,68.34 641.44,68.34 642.04,68.43 642.65,68.40 643.25,68.50 643.85,68.33 644.45,68.30 645.06,68.39 645.66,68.36 646.26,68.52 646.86,68.32 647.47,68.82 648.07,68.67 648.67,68.39 649.27,68.45 649.88,68.51 650.48,68.52 651.08,68.37 651.69,68.81 652.29,68.90 652.89,68.58 653.49,68.59 654.10,68.35 654.70,68.36 655.30,68.51 655.90,68.46 656.51,68.80 657.11,68.40 657.71,68.31 658.32,68.87 658.92,68.62 659.52,68.39 660.12,68.63 660.73,68.32 661.33,68.62 661.93,68.89 662.53,68.82 663.14,68.72 663.74,68.46 664.34,68.52 664.95,68.40 665.55,68.76 666.15,68.62 666.75,68.77 667.36,68.50 667.96,68.43 668.56,68.79 669.16,68.89 669.77,68.81 670.37,68.78 670.97,68.79 671.58,68.74 672.18,68.44 672.78,68.61 673.38,68.51 673.99,68.32 674.59,68.32 675.19,68.47 675.79,68.46 676.40,68.72 677.00,68.87" fill="none" stroke="#111" stroke-width="1.3" stroke-linejoin="round"/>
<polyline points="575.85,68.60 576.00,60.10 576.30,62.90 576.70,65.26 577.20,66.88 577.80,67.83 578.60,68.33 579.40,68.51" fill="none" stroke="#444" stroke-width="0.5" stroke-linejoin="miter"/>
<polyline points="580.45,68.60 580.60,64.70 580.90,65.99 581.30,67.07 581.80,67.81 582.40,68.25 583.20,68.48 584.00,68.56" fill="none" stroke="#444" stroke-width="0.5" stroke-linejoin="miter"/>
<polyline points="584.05,68.60 584.20,65.60 584.50,66.59 584.90,67.42 585.40,67.99 586.00,68.33 586.80,68.51 587.60,68.57" fill="none" stroke="#444" stroke-width="0.5" stroke-linejoin="miter"/>
<polyline points="584.85,68.60 585.00,65.60 585.30,66.59 585.70,67.42 586.20,67.99 586.80,68.33 587.60,68.51 588.40,68.57" fill="none" stroke="#444" stroke-width="0.5" stroke-linejoin="miter"/>
<polyline points="590.65,68.60 590.80,66.00 591.10,66.86 591.50,67.58 592.00,68.08 592.60,68.36 593.40,68.52 594.20,68.57" fill="none" stroke="#444" stroke-width="0.5" stroke-linejoin="miter"/>
<polyline points="592.45,68.60 592.60,63.80 592.90,65.38 593.30,66.71 593.80,67.63 594.40,68.16 595.20,68.45 596.00,68.55" fill="none" stroke="#444" stroke-width="0.5" stroke-linejoin="miter"/>
<polyline points="610.75,68.60 610.90,65.10 611.20,66.25 611.60,67.22 612.10,67.89 612.70,68.28 613.50,68.49 614.30,68.56" fill="none" stroke="#444" stroke-width="0.5" stroke-linejoin="miter"/>
<polyline points="615.25,68.60 615.40,62.90 615.70,64.78 616.10,66.36 616.60,67.45 617.20,68.08 618.00,68.42 618.80,68.54" fill="none" stroke="#444" stroke-width="0.5" stroke-linejoin="miter"/>
<polyline points="616.65,68.60 616.80,62.90 617.10,64.78 617.50,66.36 618.00,67.45 618.60,68.08 619.40,68.42 620.20,68.54" fill="none" stroke="#444" stroke-width="0.5" stroke-linejoin="miter"/>
<polyline points="620.75,68.60 620.90,63.80 621.20,65.38 621.60,66.71 622.10,67.63 622.70,68.16 623.50,68.45 624.30,68.55" fill="none" stroke="#444" stroke-width="0.5" stroke-linejoin="miter"/>
<polyline points="625.75,68.60 625.90,65.10 626.20,66.25 626.60,67.22 627.10,67.89 627.70,68.28 628.50,68.49 629.30,68.56" fill="none" stroke="#444" stroke-width="0.5" stroke-linejoin="miter"/>
<polyline points="638.45,68.60 638.60,66.00 638.90,66.86 639.30,67.58 639.80,68.08 640.40,68.36 641.20,68.52 642.00,68.57" fill="none" stroke="#444" stroke-width="0.5" stroke-linejoin="miter"/>
<polyline points="648.35,68.60 648.50,62.00 648.80,64.18 649.20,66.00 649.70,67.27 650.30,68.00 651.10,68.39 651.90,68.53" fill="none" stroke="#444" stroke-width="0.5" stroke-linejoin="miter"/>
<polyline points="650.45,68.60 650.60,65.60 650.90,66.59 651.30,67.42 651.80,67.99 652.40,68.33 653.20,68.51 654.00,68.57" fill="none" stroke="#444" stroke-width="0.5" stroke-linejoin="miter"/>
<polyline points="654.25,68.60 654.40,66.20 654.70,66.99 655.10,67.66 655.60,68.12 656.20,68.38 657.00,68.53 657.80,68.57" fill="none" stroke="#444" stroke-width="0.5" stroke-linejoin="miter"/>
<polyline points="659.65,68.60 659.80,64.70 660.10,65.99 660.50,67.07 661.00,67.81 661.60,68.25 662.40,68.48 663.20,68.56" fill="none" stroke="#444" stroke-width="0.5" stroke-linejoin="miter"/>
<polyline points="661.25,68.60 661.40,60.10 661.70,62.90 662.10,65.26 662.60,66.88 663.20,67.83 664.00,68.33 664.80,68.51" fill="none" stroke="#444" stroke-width="0.5" stroke-linejoin="miter"/>
<polyline points="663.25,68.60 663.40,64.70 663.70,65.99 664.10,67.07 664.60,67.81 665.20,68.25 666.00,68.48 666.80,68.56" fill="none" stroke="#444" stroke-width="0.5" stroke-linejoin="miter"/>
<polyline points="666.95,68.60 667.10,65.10 667.40,66.25 667.80,67.22 668.30,67.89 668.90,68.28 669.70,68.49 670.50,68.56" fill="none" stroke="#444" stroke-width="0.5" stroke-linejoin="miter"/>
<polyline points="669.45,68.60 669.60,62.90 669.90,64.78 670.30,66.36 670.80,67.45 671.40,68.08 672.20,68.42 673.00,68.54" fill="none" stroke="#444" stroke-width="0.5" stroke-linejoin="miter"/>
<polyline points="673.65,68.60 673.80,65.10 674.10,66.25 674.50,67.22 675.00,67.89 675.60,68.28 676.40,68.49 677.20,68.56" fill="none" stroke="#444" stroke-width="0.5" stroke-linejoin="miter"/>
<polyline points="675.95,68.60 676.10,64.70 676.40,65.99 676.80,67.07 677.30,67.81 677.90,68.25 678.70,68.48 679.50,68.56" fill="none" stroke="#444" stroke-width="0.5" stroke-linejoin="miter"/>
<polyline points="566.10,80.04 566.70,80.48 567.31,79.98 567.91,80.32 568.51,79.95 569.11,80.05 569.72,80.50 570.32,80.03 570.92,80.29 571.52,80.18 572.13,80.17 572.73,80.20 573.33,80.02 573.94,80.40 574.54,79.95 575.14,80.04 575.74,79.91 576.35,80.06 576.95,80.14 577.55,80.44 578.15,80.13 578.76,79.97 579.36,80.06 579.96,80.49 580.57,79.94 581.17,80.27 581.77,80.13 582.37,80.30 582.98,80.10 583.58,80.31 584.18,80.20 584.78,80.29 585.39,80.44 585.99,80.25 586.59,79.99 587.20,79.94 587.80,80.47 588.40,80.19 589.00,80.02 589.61,80.47 590.21,80.25 590.81,80.34 591.41,80.43 592.02,80.07 592.62,80.11 593.22,80.43 593.83,79.98 594.43,80.36 595.03,79.96 595.63,80.31 596.24,80.32 596.84,80.47 597.44,80.41 598.04,80.20 598.65,80.02 599.25,79.99 599.85,80.22 600.45,80.21 601.06,79.94 601.66,80.44 602.26,80.20 602.87,80.32 603.47,80.03 604.07,80.05 604.67,79.91 605.28,80.11 605.88,80.06 606.48,80.15 607.08,80.13 607.69,80.40 608.29,80.43 608.89,80.01 609.50,80.14 610.10,80.00 610.70,80.30 611.30,80.48 611.91,80.02 612.51,80.36 613.11,80.08 613.71,79.91 614.32,80.36 614.92,80.11 615.52,80.00 616.13,80.16 616.73,80.04 617.33,80.15 617.93,80.17 618.54,80.15 619.14,80.25 619.74,80.07 620.34,79.96 620.95,79.95 621.55,79.96 622.15,80.21 622.76,80.12 623.36,80.38 623.96,80.20 624.56,80.32 625.17,80.49 625.77,79.94 626.37,79.91 626.97,79.98 627.58,80.13 628.18,80.24 628.78,80.35 629.39,80.11 629.99,80.48 630.59,79.90 631.19,80.40 631.80,80.03 632.40,80.43 633.00,79.92 633.60,80.48 634.21,80.36 634.81,80.49 635.41,80.25 636.02,80.01 636.62,80.48 637.22,80.16 637.82,79.95 638.43,80.26 639.03,80.20 639.63,80.18 640.23,79.99 640.84,79.97 641.44,80.25 642.04,80.17 642.65,79.98 643.25,80.16 643.85,80.34 644.45,80.33 645.06,80.18 645.66,80.14 646.26,80.12 646.86,80.04 647.47,80.02 648.07,80.17 648.67,79.96 649.27,80.34 649.88,80.32 650.48,80.27 651.08,79.91 651.69,80.12 652.29,80.16 652.89,79.96 653.49,80.48 654.10,80.35 654.70,80.20 655.30,80.32 655.90,80.02 656.51,80.04 657.11,80.22 657.71,80.35 658.32,80.29 658.92,79.90 659.52,80.27 660.12,80.45 660.73,80.35 661.33,80.46 661.93,80.49 662.53,80.03 663.14,80.08 663.74,80.23 664.34,80.49 664.95,80.12 665.55,80.46 666.15,80.41 666.75,80.21 667.36,80.28 667.96,80.47 668.56,80.37 669.16,80.08 669.77,80.41 670.37,80.02 670.97,80.12 671.58,80.48 672.18,80.41 672.78,80.09 673.38,80.07 673.99,80.27 674.59,80.41 675.19,80.31 675.79,80.46 676.40,80.34 677.00,80.39" fill="none" stroke="#e3211c" stroke-width="0.95" stroke-linejoin="round"/>
<polyline points="579.95,80.20 580.10,72.40 580.40,74.97 580.80,77.13 581.30,78.63 581.90,79.49 582.70,79.96 583.50,80.12" fill="none" stroke="#e3211c" stroke-width="0.45" stroke-linejoin="miter"/>
<polyline points="612.05,80.20 612.20,77.80 612.50,78.59 612.90,79.26 613.40,79.72 614.00,79.98 614.80,80.13 615.60,80.17" fill="none" stroke="#e3211c" stroke-width="0.45" stroke-linejoin="miter"/>
<polyline points="616.15,80.20 616.30,73.30 616.60,75.57 617.00,77.49 617.50,78.81 618.10,79.57 618.90,79.98 619.70,80.13" fill="none" stroke="#e3211c" stroke-width="0.45" stroke-linejoin="miter"/>
<polyline points="625.25,80.20 625.40,71.00 625.70,74.03 626.10,76.58 626.60,78.34 627.20,79.37 628.00,79.91 628.80,80.10" fill="none" stroke="#e3211c" stroke-width="0.45" stroke-linejoin="miter"/>
<polyline points="659.25,80.20 659.40,76.00 659.70,77.38 660.10,78.55 660.60,79.35 661.20,79.82 662.00,80.07 662.80,80.15" fill="none" stroke="#e3211c" stroke-width="0.45" stroke-linejoin="miter"/>
<polyline points="668.25,80.20 668.40,76.40 668.70,77.65 669.10,78.71 669.60,79.43 670.20,79.86 671.00,80.08 671.80,80.16" fill="none" stroke="#e3211c" stroke-width="0.45" stroke-linejoin="miter"/>
<polyline points="675.25,80.20 675.40,76.90 675.70,77.99 676.10,78.90 676.60,79.53 677.20,79.90 678.00,80.10 678.80,80.16" fill="none" stroke="#e3211c" stroke-width="0.45" stroke-linejoin="miter"/>
<polyline points="665.2,88.4 674.8,88.4 674.8,83.9" fill="none" stroke="#4a4a4a" stroke-width="1"/>
<line x1="41.90" y1="203.00" x2="46.30" y2="203.00" stroke="#000" stroke-width="1.4" stroke-linecap="butt"/>
<text x="40.30" y="207.80" font-size="10.5" font-weight="bold" text-anchor="end" fill="#000" >0.0</text>
<line x1="43.00" y1="192.27" x2="46.30" y2="192.27" stroke="#000" stroke-width="1.4" stroke-linecap="butt"/>
<line x1="41.90" y1="181.54" x2="46.30" y2="181.54" stroke="#000" stroke-width="1.4" stroke-linecap="butt"/>
<text x="40.30" y="186.34" font-size="10.5" font-weight="bold" text-anchor="end" fill="#000" >0.2</text>
<line x1="43.00" y1="170.81" x2="46.30" y2="170.81" stroke="#000" stroke-width="1.4" stroke-linecap="butt"/>
<line x1="41.90" y1="160.08" x2="46.30" y2="160.08" stroke="#000" stroke-width="1.4" stroke-linecap="butt"/>
<text x="40.30" y="164.88" font-size="10.5" font-weight="bold" text-anchor="end" fill="#000" >0.4</text>
<line x1="43.00" y1="149.35" x2="46.30" y2="149.35" stroke="#000" stroke-width="1.4" stroke-linecap="butt"/>
<line x1="41.90" y1="138.62" x2="46.30" y2="138.62" stroke="#000" stroke-width="1.4" stroke-linecap="butt"/>
<text x="40.30" y="143.42" font-size="10.5" font-weight="bold" text-anchor="end" fill="#000" >0.6</text>
<line x1="43.00" y1="127.89" x2="46.30" y2="127.89" stroke="#000" stroke-width="1.4" stroke-linecap="butt"/>
<line x1="41.90" y1="117.16" x2="46.30" y2="117.16" stroke="#000" stroke-width="1.4" stroke-linecap="butt"/>
<text x="40.30" y="121.96" font-size="10.5" font-weight="bold" text-anchor="end" fill="#000" >0.8</text>
<line x1="43.00" y1="106.43" x2="46.30" y2="106.43" stroke="#000" stroke-width="1.4" stroke-linecap="butt"/>
<line x1="41.90" y1="95.70" x2="46.30" y2="95.70" stroke="#000" stroke-width="1.4" stroke-linecap="butt"/>
<text x="40.30" y="100.50" font-size="10.5" font-weight="bold" text-anchor="end" fill="#000" >1.0</text>
<line x1="46.30" y1="95.10" x2="46.30" y2="203.65" stroke="#000" stroke-width="1.55" stroke-linecap="butt"/>
<line x1="45.70" y1="203.00" x2="153.34" y2="203.00" stroke="#000" stroke-width="1.55" stroke-linecap="butt"/>
<line x1="46.30" y1="203.00" x2="46.30" y2="207.00" stroke="#000" stroke-width="1.4" stroke-linecap="butt"/>
<text x="46.30" y="217.60" font-size="10.3" font-weight="bold" text-anchor="middle" fill="#000" >0</text>
<line x1="79.75" y1="203.00" x2="79.75" y2="207.00" stroke="#000" stroke-width="1.4" stroke-linecap="butt"/>
<text x="79.75" y="217.60" font-size="10.3" font-weight="bold" text-anchor="middle" fill="#000" >500</text>
<line x1="113.20" y1="203.00" x2="113.20" y2="207.00" stroke="#000" stroke-width="1.4" stroke-linecap="butt"/>
<text x="113.20" y="217.60" font-size="10.3" font-weight="bold" text-anchor="middle" fill="#000" >1000</text>
<line x1="146.65" y1="203.00" x2="146.65" y2="207.00" stroke="#000" stroke-width="1.4" stroke-linecap="butt"/>
<text x="146.65" y="217.60" font-size="10.3" font-weight="bold" text-anchor="middle" fill="#000" >1500</text>
<line x1="63.02" y1="203.00" x2="63.02" y2="206.00" stroke="#000" stroke-width="1.4" stroke-linecap="butt"/>
<line x1="96.47" y1="203.00" x2="96.47" y2="206.00" stroke="#000" stroke-width="1.4" stroke-linecap="butt"/>
<line x1="129.93" y1="203.00" x2="129.93" y2="206.00" stroke="#000" stroke-width="1.4" stroke-linecap="butt"/>
<polyline points="46.30,203.00 53.00,197.70 60.00,181.80 65.90,165.80 72.90,145.90 79.90,126.90 86.90,111.90 93.90,104.00 100.90,100.40 107.80,98.40 115.80,97.40 123.80,96.60 135.00,96.00 153.80,95.70" fill="none" stroke="#e3211c" stroke-width="1.6" stroke-linejoin="round"/>
<polyline points="46.30,203.00 47.60,189.80 50.00,165.80 53.00,148.90 56.00,134.90 60.00,121.90 64.90,110.00 68.90,104.00 73.90,99.00 79.90,96.60 86.90,95.70 153.80,95.70" fill="none" stroke="#000" stroke-width="1.6" stroke-linejoin="round"/>
<line x1="102.20" y1="149.80" x2="120.60" y2="149.80" stroke="#000" stroke-width="1.6" stroke-linecap="butt"/>
<line x1="102.20" y1="162.20" x2="120.60" y2="162.20" stroke="#e3211c" stroke-width="1.6" stroke-linecap="butt"/>
<text x="124.60" y="153.00" font-size="11.0" font-weight="bold" text-anchor="start" fill="#000" >eGFP</text>
<text x="124.60" y="165.40" font-size="11.0" font-weight="bold" text-anchor="start" fill="#000" >shRit2</text>
<polygon points="91.20,119.35 91.99,121.06 93.86,121.28 92.48,122.57 92.85,124.42 91.20,123.50 89.55,124.42 89.92,122.57 88.54,121.28 90.41,121.06" fill="#000"/>
<polygon points="96.53,119.35 97.32,121.06 99.19,121.28 97.81,122.57 98.18,124.42 96.53,123.50 94.88,124.42 95.25,122.57 93.87,121.28 95.74,121.06" fill="#000"/>
<polygon points="101.86,119.35 102.65,121.06 104.52,121.28 103.14,122.57 103.51,124.42 101.86,123.50 100.21,124.42 100.58,122.57 99.20,121.28 101.07,121.06" fill="#000"/>
<polygon points="107.19,119.35 107.98,121.06 109.85,121.28 108.47,122.57 108.84,124.42 107.19,123.50 105.54,124.42 105.91,122.57 104.53,121.28 106.40,121.06" fill="#000"/>
<line x1="222.00" y1="203.00" x2="226.40" y2="203.00" stroke="#000" stroke-width="1.4" stroke-linecap="butt"/>
<text x="219.80" y="207.80" font-size="10.5" font-weight="bold" text-anchor="end" fill="#000" >0.0</text>
<line x1="223.10" y1="192.27" x2="226.40" y2="192.27" stroke="#000" stroke-width="1.4" stroke-linecap="butt"/>
<line x1="222.00" y1="181.54" x2="226.40" y2="181.54" stroke="#000" stroke-width="1.4" stroke-linecap="butt"/>
<text x="219.80" y="186.34" font-size="10.5" font-weight="bold" text-anchor="end" fill="#000" >0.2</text>
<line x1="223.10" y1="170.81" x2="226.40" y2="170.81" stroke="#000" stroke-width="1.4" stroke-linecap="butt"/>
<line x1="222.00" y1="160.08" x2="226.40" y2="160.08" stroke="#000" stroke-width="1.4" stroke-linecap="butt"/>
<text x="219.80" y="164.88" font-size="10.5" font-weight="bold" text-anchor="end" fill="#000" >0.4</text>
<line x1="223.10" y1="149.35" x2="226.40" y2="149.35" stroke="#000" stroke-width="1.4" stroke-linecap="butt"/>
<line x1="222.00" y1="138.62" x2="226.40" y2="138.62" stroke="#000" stroke-width="1.4" stroke-linecap="butt"/>
<text x="219.80" y="143.42" font-size="10.5" font-weight="bold" text-anchor="end" fill="#000" >0.6</text>
<line x1="223.10" y1="127.89" x2="226.40" y2="127.89" stroke="#000" stroke-width="1.4" stroke-linecap="butt"/>
<line x1="222.00" y1="117.16" x2="226.40" y2="117.16" stroke="#000" stroke-width="1.4" stroke-linecap="butt"/>
<text x="219.80" y="121.96" font-size="10.5" font-weight="bold" text-anchor="end" fill="#000" >0.8</text>
<line x1="223.10" y1="106.43" x2="226.40" y2="106.43" stroke="#000" stroke-width="1.4" stroke-linecap="butt"/>
<line x1="222.00" y1="95.70" x2="226.40" y2="95.70" stroke="#000" stroke-width="1.4" stroke-linecap="butt"/>
<text x="219.80" y="100.50" font-size="10.5" font-weight="bold" text-anchor="end" fill="#000" >1.0</text>
<line x1="226.40" y1="95.10" x2="226.40" y2="203.65" stroke="#000" stroke-width="1.55" stroke-linecap="butt"/>
<line x1="225.80" y1="203.00" x2="333.12" y2="203.00" stroke="#000" stroke-width="1.55" stroke-linecap="butt"/>
<line x1="226.40" y1="203.00" x2="226.40" y2="207.00" stroke="#000" stroke-width="1.4" stroke-linecap="butt"/>
<text x="226.40" y="217.60" font-size="10.3" font-weight="bold" text-anchor="middle" fill="#000" >0</text>
<line x1="259.75" y1="203.00" x2="259.75" y2="207.00" stroke="#000" stroke-width="1.4" stroke-linecap="butt"/>
<text x="259.75" y="217.60" font-size="10.3" font-weight="bold" text-anchor="middle" fill="#000" >500</text>
<line x1="293.10" y1="203.00" x2="293.10" y2="207.00" stroke="#000" stroke-width="1.4" stroke-linecap="butt"/>
<text x="293.10" y="217.60" font-size="10.3" font-weight="bold" text-anchor="middle" fill="#000" >1000</text>
<line x1="326.45" y1="203.00" x2="326.45" y2="207.00" stroke="#000" stroke-width="1.4" stroke-linecap="butt"/>
<text x="326.45" y="217.60" font-size="10.3" font-weight="bold" text-anchor="middle" fill="#000" >1500</text>
<line x1="243.07" y1="203.00" x2="243.07" y2="206.00" stroke="#000" stroke-width="1.4" stroke-linecap="butt"/>
<line x1="276.43" y1="203.00" x2="276.43" y2="206.00" stroke="#000" stroke-width="1.4" stroke-linecap="butt"/>
<line x1="309.77" y1="203.00" x2="309.77" y2="206.00" stroke="#000" stroke-width="1.4" stroke-linecap="butt"/>
<polyline points="226.40,203.20 233.00,199.40 239.60,181.80 245.00,160.90 251.00,137.90 258.90,115.90 265.90,104.40 272.90,99.60 278.90,99.00 285.90,97.00 292.90,95.60 305.80,95.60" fill="none" stroke="#e3211c" stroke-width="1.6" stroke-linejoin="round"/>
<polyline points="226.40,203.20 233.00,199.40 239.60,182.80 245.00,161.90 251.00,140.90 257.90,123.90 264.90,113.00 272.90,105.00 279.90,104.00 285.90,102.40 292.90,99.00 299.80,97.40 305.80,96.00 313.80,96.00" fill="none" stroke="#000" stroke-width="1.6" stroke-linejoin="round"/>
<line x1="278.30" y1="149.80" x2="296.70" y2="149.80" stroke="#000" stroke-width="1.6" stroke-linecap="butt"/>
<line x1="278.30" y1="162.20" x2="296.70" y2="162.20" stroke="#e3211c" stroke-width="1.6" stroke-linecap="butt"/>
<text x="300.70" y="153.00" font-size="11.0" font-weight="bold" text-anchor="start" fill="#000" >eGFP</text>
<text x="300.70" y="165.40" font-size="11.0" font-weight="bold" text-anchor="start" fill="#000" >shRit2</text>
<line x1="384.70" y1="203.00" x2="389.10" y2="203.00" stroke="#000" stroke-width="1.4" stroke-linecap="butt"/>
<text x="382.50" y="207.80" font-size="10.5" font-weight="bold" text-anchor="end" fill="#000" >0.0</text>
<line x1="385.80" y1="192.27" x2="389.10" y2="192.27" stroke="#000" stroke-width="1.4" stroke-linecap="butt"/>
<line x1="384.70" y1="181.54" x2="389.10" y2="181.54" stroke="#000" stroke-width="1.4" stroke-linecap="butt"/>
<text x="382.50" y="186.34" font-size="10.5" font-weight="bold" text-anchor="end" fill="#000" >0.2</text>
<line x1="385.80" y1="170.81" x2="389.10" y2="170.81" stroke="#000" stroke-width="1.4" stroke-linecap="butt"/>
<line x1="384.70" y1="160.08" x2="389.10" y2="160.08" stroke="#000" stroke-width="1.4" stroke-linecap="butt"/>
<text x="382.50" y="164.88" font-size="10.5" font-weight="bold" text-anchor="end" fill="#000" >0.4</text>
<line x1="385.80" y1="149.35" x2="389.10" y2="149.35" stroke="#000" stroke-width="1.4" stroke-linecap="butt"/>
<line x1="384.70" y1="138.62" x2="389.10" y2="138.62" stroke="#000" stroke-width="1.4" stroke-linecap="butt"/>
<text x="382.50" y="143.42" font-size="10.5" font-weight="bold" text-anchor="end" fill="#000" >0.6</text>
<line x1="385.80" y1="127.89" x2="389.10" y2="127.89" stroke="#000" stroke-width="1.4" stroke-linecap="butt"/>
<line x1="384.70" y1="117.16" x2="389.10" y2="117.16" stroke="#000" stroke-width="1.4" stroke-linecap="butt"/>
<text x="382.50" y="121.96" font-size="10.5" font-weight="bold" text-anchor="end" fill="#000" >0.8</text>
<line x1="385.80" y1="106.43" x2="389.10" y2="106.43" stroke="#000" stroke-width="1.4" stroke-linecap="butt"/>
<line x1="384.70" y1="95.70" x2="389.10" y2="95.70" stroke="#000" stroke-width="1.4" stroke-linecap="butt"/>
<text x="382.50" y="100.50" font-size="10.5" font-weight="bold" text-anchor="end" fill="#000" >1.0</text>
<line x1="389.10" y1="95.10" x2="389.10" y2="203.65" stroke="#000" stroke-width="1.55" stroke-linecap="butt"/>
<line x1="388.50" y1="203.00" x2="496.30" y2="203.00" stroke="#000" stroke-width="1.55" stroke-linecap="butt"/>
<line x1="389.10" y1="203.00" x2="389.10" y2="207.00" stroke="#000" stroke-width="1.4" stroke-linecap="butt"/>
<text x="389.10" y="217.60" font-size="10.3" font-weight="bold" text-anchor="middle" fill="#000" >0</text>
<line x1="415.90" y1="203.00" x2="415.90" y2="207.00" stroke="#000" stroke-width="1.4" stroke-linecap="butt"/>
<text x="415.90" y="217.60" font-size="10.3" font-weight="bold" text-anchor="middle" fill="#000" >250</text>
<line x1="442.70" y1="203.00" x2="442.70" y2="207.00" stroke="#000" stroke-width="1.4" stroke-linecap="butt"/>
<text x="442.70" y="217.60" font-size="10.3" font-weight="bold" text-anchor="middle" fill="#000" >500</text>
<line x1="469.50" y1="203.00" x2="469.50" y2="207.00" stroke="#000" stroke-width="1.4" stroke-linecap="butt"/>
<text x="469.50" y="217.60" font-size="10.3" font-weight="bold" text-anchor="middle" fill="#000" >750</text>
<line x1="496.30" y1="203.00" x2="496.30" y2="207.00" stroke="#000" stroke-width="1.4" stroke-linecap="butt"/>
<text x="496.30" y="217.60" font-size="10.3" font-weight="bold" text-anchor="middle" fill="#000" >1000</text>
<line x1="402.50" y1="203.00" x2="402.50" y2="206.00" stroke="#000" stroke-width="1.4" stroke-linecap="butt"/>
<line x1="429.30" y1="203.00" x2="429.30" y2="206.00" stroke="#000" stroke-width="1.4" stroke-linecap="butt"/>
<line x1="456.10" y1="203.00" x2="456.10" y2="206.00" stroke="#000" stroke-width="1.4" stroke-linecap="butt"/>
<line x1="482.90" y1="203.00" x2="482.90" y2="206.00" stroke="#000" stroke-width="1.4" stroke-linecap="butt"/>
<polyline points="389.10,203.20 394.00,199.30 399.00,189.80 405.00,168.80 410.00,153.80 414.90,138.90 419.90,120.90 424.90,110.90 430.90,105.00 437.90,101.00 444.90,99.00 451.80,97.00 456.80,95.90 475.30,95.70" fill="none" stroke="#e3211c" stroke-width="1.6" stroke-linejoin="round"/>
<polyline points="389.10,203.20 395.00,201.30 400.00,195.30 405.00,179.80 410.00,160.80 414.90,139.90 418.90,123.90 422.90,112.90 426.90,103.50 432.90,99.00 438.90,97.00 446.80,95.90 475.30,95.70" fill="none" stroke="#000" stroke-width="1.6" stroke-linejoin="round"/>
<line x1="434.60" y1="149.80" x2="453.00" y2="149.80" stroke="#000" stroke-width="1.6" stroke-linecap="butt"/>
<line x1="434.60" y1="162.20" x2="453.00" y2="162.20" stroke="#e3211c" stroke-width="1.6" stroke-linecap="butt"/>
<text x="457.00" y="153.00" font-size="11.0" font-weight="bold" text-anchor="start" fill="#000" >eGFP</text>
<text x="457.00" y="165.40" font-size="11.0" font-weight="bold" text-anchor="start" fill="#000" >shRit2</text>
<line x1="557.50" y1="203.00" x2="561.90" y2="203.00" stroke="#000" stroke-width="1.4" stroke-linecap="butt"/>
<text x="553.40" y="207.80" font-size="10.5" font-weight="bold" text-anchor="end" fill="#000" >0.0</text>
<line x1="558.60" y1="192.27" x2="561.90" y2="192.27" stroke="#000" stroke-width="1.4" stroke-linecap="butt"/>
<line x1="557.50" y1="181.54" x2="561.90" y2="181.54" stroke="#000" stroke-width="1.4" stroke-linecap="butt"/>
<text x="553.40" y="186.34" font-size="10.5" font-weight="bold" text-anchor="end" fill="#000" >0.2</text>
<line x1="558.60" y1="170.81" x2="561.90" y2="170.81" stroke="#000" stroke-width="1.4" stroke-linecap="butt"/>
<line x1="557.50" y1="160.08" x2="561.90" y2="160.08" stroke="#000" stroke-width="1.4" stroke-linecap="butt"/>
<text x="553.40" y="164.88" font-size="10.5" font-weight="bold" text-anchor="end" fill="#000" >0.4</text>
<line x1="558.60" y1="149.35" x2="561.90" y2="149.35" stroke="#000" stroke-width="1.4" stroke-linecap="butt"/>
<line x1="557.50" y1="138.62" x2="561.90" y2="138.62" stroke="#000" stroke-width="1.4" stroke-linecap="butt"/>
<text x="553.40" y="143.42" font-size="10.5" font-weight="bold" text-anchor="end" fill="#000" >0.6</text>
<line x1="558.60" y1="127.89" x2="561.90" y2="127.89" stroke="#000" stroke-width="1.4" stroke-linecap="butt"/>
<line x1="557.50" y1="117.16" x2="561.90" y2="117.16" stroke="#000" stroke-width="1.4" stroke-linecap="butt"/>
<text x="553.40" y="121.96" font-size="10.5" font-weight="bold" text-anchor="end" fill="#000" >0.8</text>
<line x1="558.60" y1="106.43" x2="561.90" y2="106.43" stroke="#000" stroke-width="1.4" stroke-linecap="butt"/>
<line x1="557.50" y1="95.70" x2="561.90" y2="95.70" stroke="#000" stroke-width="1.4" stroke-linecap="butt"/>
<text x="553.40" y="100.50" font-size="10.5" font-weight="bold" text-anchor="end" fill="#000" >1.0</text>
<line x1="561.90" y1="95.10" x2="561.90" y2="203.65" stroke="#000" stroke-width="1.55" stroke-linecap="butt"/>
<line x1="561.30" y1="203.00" x2="669.10" y2="203.00" stroke="#000" stroke-width="1.55" stroke-linecap="butt"/>
<line x1="561.90" y1="203.00" x2="561.90" y2="207.00" stroke="#000" stroke-width="1.4" stroke-linecap="butt"/>
<text x="561.90" y="217.60" font-size="10.3" font-weight="bold" text-anchor="middle" fill="#000" >0</text>
<line x1="588.70" y1="203.00" x2="588.70" y2="207.00" stroke="#000" stroke-width="1.4" stroke-linecap="butt"/>
<text x="588.70" y="217.60" font-size="10.3" font-weight="bold" text-anchor="middle" fill="#000" >250</text>
<line x1="615.50" y1="203.00" x2="615.50" y2="207.00" stroke="#000" stroke-width="1.4" stroke-linecap="butt"/>
<text x="615.50" y="217.60" font-size="10.3" font-weight="bold" text-anchor="middle" fill="#000" >500</text>
<line x1="642.30" y1="203.00" x2="642.30" y2="207.00" stroke="#000" stroke-width="1.4" stroke-linecap="butt"/>
<text x="642.30" y="217.60" font-size="10.3" font-weight="bold" text-anchor="middle" fill="#000" >750</text>
<line x1="669.10" y1="203.00" x2="669.10" y2="207.00" stroke="#000" stroke-width="1.4" stroke-linecap="butt"/>
<text x="669.10" y="217.60" font-size="10.3" font-weight="bold" text-anchor="middle" fill="#000" >1000</text>
<line x1="575.30" y1="203.00" x2="575.30" y2="206.00" stroke="#000" stroke-width="1.4" stroke-linecap="butt"/>
<line x1="602.10" y1="203.00" x2="602.10" y2="206.00" stroke="#000" stroke-width="1.4" stroke-linecap="butt"/>
<line x1="628.90" y1="203.00" x2="628.90" y2="206.00" stroke="#000" stroke-width="1.4" stroke-linecap="butt"/>
<line x1="655.70" y1="203.00" x2="655.70" y2="206.00" stroke="#000" stroke-width="1.4" stroke-linecap="butt"/>
<polyline points="561.90,203.20 567.00,197.70 573.00,187.80 578.00,173.80 583.00,157.80 587.90,142.90 593.90,128.90 598.90,117.90 604.90,110.90 609.90,109.00 615.90,106.00 623.80,100.00 629.80,99.00 637.80,97.60 646.60,97.20 653.50,96.00 669.90,95.80" fill="none" stroke="#e3211c" stroke-width="1.6" stroke-linejoin="round"/>
<polyline points="561.90,203.20 567.00,197.70 572.00,184.80 577.00,167.80 581.90,149.90 587.90,129.90 593.90,114.90 599.50,105.00 605.90,101.00 613.90,98.00 619.80,97.40 625.80,96.60 631.80,95.80 669.90,95.80" fill="none" stroke="#000" stroke-width="1.6" stroke-linejoin="round"/>
<line x1="612.10" y1="149.80" x2="630.50" y2="149.80" stroke="#000" stroke-width="1.6" stroke-linecap="butt"/>
<line x1="612.10" y1="162.20" x2="630.50" y2="162.20" stroke="#e3211c" stroke-width="1.6" stroke-linecap="butt"/>
<text x="634.50" y="153.00" font-size="11.0" font-weight="bold" text-anchor="start" fill="#000" >eGFP</text>
<text x="634.50" y="165.40" font-size="11.0" font-weight="bold" text-anchor="start" fill="#000" >shRit2</text>
<polygon points="608.50,119.35 609.29,121.06 611.16,121.28 609.78,122.57 610.15,124.42 608.50,123.50 606.85,124.42 607.22,122.57 605.84,121.28 607.71,121.06" fill="#000"/>
<polygon points="613.83,119.35 614.62,121.06 616.49,121.28 615.11,122.57 615.48,124.42 613.83,123.50 612.18,124.42 612.55,122.57 611.17,121.28 613.04,121.06" fill="#000"/>
<polygon points="619.16,119.35 619.95,121.06 621.82,121.28 620.44,122.57 620.81,124.42 619.16,123.50 617.51,124.42 617.88,122.57 616.50,121.28 618.37,121.06" fill="#000"/>
<text x="24.80" y="64.00" font-size="13.5" font-weight="bold" text-anchor="start" fill="#000" >a</text>
<text x="199.60" y="64.00" font-size="13.5" font-weight="bold" text-anchor="start" fill="#000" >b</text>
<text x="367.30" y="64.00" font-size="13.5" font-weight="bold" text-anchor="start" fill="#000" >c</text>
<text x="530.00" y="64.00" font-size="13.5" font-weight="bold" text-anchor="start" fill="#000" >d</text>
<text x="25.50" y="269.30" font-size="13.5" font-weight="bold" text-anchor="start" fill="#000" >e</text>
<text x="191.60" y="269.30" font-size="13.5" font-weight="bold" text-anchor="start" fill="#000" >f</text>
<text x="366.80" y="269.30" font-size="13.5" font-weight="bold" text-anchor="start" fill="#000" >g</text>
<text x="530.60" y="269.30" font-size="13.5" font-weight="bold" text-anchor="start" fill="#000" >h</text>
<text x="25.20" y="444.70" font-size="13.5" font-weight="bold" text-anchor="start" fill="#000" >i</text>
<text x="191.60" y="444.70" font-size="13.5" font-weight="bold" text-anchor="start" fill="#000" >j</text>
<text x="0.00" y="0.00" font-size="13.8" font-weight="bold" text-anchor="middle" fill="#000" transform="translate(11.7,146.8) rotate(-90)">Cumulative probability</text>
<text x="100.20" y="236.00" font-size="13.4" font-weight="bold" text-anchor="middle" fill="#000" >IEI (msec)</text>
<text x="280.00" y="236.00" font-size="13.4" font-weight="bold" text-anchor="middle" fill="#000" >IEI (msec)</text>
<text x="442.80" y="236.00" font-size="13.4" font-weight="bold" text-anchor="middle" fill="#000" >IEI (msec)</text>
<text x="615.20" y="236.00" font-size="13.4" font-weight="bold" text-anchor="middle" fill="#000" >IEI (msec)</text>
<text x="0.00" y="0.00" font-size="13.8" font-weight="bold" text-anchor="middle" fill="#000" transform="translate(12.1,338.1) rotate(-90)">R(in) (M&#937;)</text>
<text x="0.00" y="0.00" font-size="13.8" font-weight="bold" text-anchor="middle" fill="#000" transform="translate(11.9,520.9) rotate(-90)">IEI (msec)</text>
<line x1="48.60" y1="389.52" x2="51.90" y2="389.52" stroke="#000" stroke-width="1.4" stroke-linecap="butt"/>
<line x1="48.60" y1="365.76" x2="51.90" y2="365.76" stroke="#000" stroke-width="1.4" stroke-linecap="butt"/>
<line x1="48.60" y1="342.00" x2="51.90" y2="342.00" stroke="#000" stroke-width="1.4" stroke-linecap="butt"/>
<line x1="48.60" y1="318.24" x2="51.90" y2="318.24" stroke="#000" stroke-width="1.4" stroke-linecap="butt"/>
<line x1="48.60" y1="294.48" x2="51.90" y2="294.48" stroke="#000" stroke-width="1.4" stroke-linecap="butt"/>
<line x1="48.60" y1="270.72" x2="51.90" y2="270.72" stroke="#000" stroke-width="1.4" stroke-linecap="butt"/>
<line x1="47.30" y1="401.40" x2="51.90" y2="401.40" stroke="#000" stroke-width="1.4" stroke-linecap="butt"/>
<text x="43.20" y="404.50" font-size="10.6" font-weight="bold" text-anchor="end" fill="#000" >0</text>
<line x1="47.30" y1="377.64" x2="51.90" y2="377.64" stroke="#000" stroke-width="1.4" stroke-linecap="butt"/>
<text x="43.20" y="380.74" font-size="10.6" font-weight="bold" text-anchor="end" fill="#000" >50</text>
<line x1="47.30" y1="353.88" x2="51.90" y2="353.88" stroke="#000" stroke-width="1.4" stroke-linecap="butt"/>
<text x="43.20" y="356.98" font-size="10.6" font-weight="bold" text-anchor="end" fill="#000" >100</text>
<line x1="47.30" y1="330.12" x2="51.90" y2="330.12" stroke="#000" stroke-width="1.4" stroke-linecap="butt"/>
<text x="43.20" y="333.22" font-size="10.6" font-weight="bold" text-anchor="end" fill="#000" >150</text>
<line x1="47.30" y1="306.36" x2="51.90" y2="306.36" stroke="#000" stroke-width="1.4" stroke-linecap="butt"/>
<text x="43.20" y="309.46" font-size="10.6" font-weight="bold" text-anchor="end" fill="#000" >200</text>
<line x1="47.30" y1="282.60" x2="51.90" y2="282.60" stroke="#000" stroke-width="1.4" stroke-linecap="butt"/>
<text x="43.20" y="285.70" font-size="10.6" font-weight="bold" text-anchor="end" fill="#000" >250</text>
<line x1="51.90" y1="270.02" x2="51.90" y2="402.15" stroke="#000" stroke-width="1.55" stroke-linecap="butt"/>
<line x1="51.20" y1="401.40" x2="139.60" y2="401.40" stroke="#000" stroke-width="1.55" stroke-linecap="butt"/>
<line x1="77.10" y1="343.20" x2="77.10" y2="326.40" stroke="#000" stroke-width="1.3" stroke-linecap="butt"/>
<line x1="70.30" y1="326.40" x2="83.80" y2="326.40" stroke="#000" stroke-width="1.3" stroke-linecap="butt"/>
<rect x="64.4" y="343.2" width="26.2" height="58" fill="#000"/>
<circle cx="77.10" cy="309.60" r="2.8" fill="#fff" stroke="#9a9a9a" stroke-width="1"/>
<circle cx="67.75" cy="342.30" r="2.8" fill="#fff" stroke="#9a9a9a" stroke-width="1"/>
<circle cx="77.10" cy="338.10" r="2.8" fill="#fff" stroke="#9a9a9a" stroke-width="1"/>
<circle cx="86.50" cy="339.00" r="2.8" fill="#fff" stroke="#9a9a9a" stroke-width="1"/>
<circle cx="73.80" cy="346.50" r="2.8" fill="#fff" stroke="#9a9a9a" stroke-width="1"/>
<circle cx="80.30" cy="346.50" r="2.8" fill="#fff" stroke="#9a9a9a" stroke-width="1"/>
<circle cx="77.10" cy="356.50" r="2.8" fill="#fff" stroke="#9a9a9a" stroke-width="1"/>
<circle cx="77.10" cy="368.50" r="2.8" fill="#fff" stroke="#9a9a9a" stroke-width="1"/>
<rect x="102.6" y="368.0" width="24.0" height="33" fill="#fff" stroke="#000" stroke-width="1.6"/>
<line x1="114.60" y1="360.70" x2="114.60" y2="374.30" stroke="#000" stroke-width="1.2" stroke-linecap="butt"/>
<line x1="108.60" y1="360.70" x2="121.00" y2="360.70" stroke="#000" stroke-width="1.2" stroke-linecap="butt"/>
<line x1="108.20" y1="374.30" x2="120.80" y2="374.30" stroke="#000" stroke-width="1.2" stroke-linecap="butt"/>
<rect x="103.90" y="355.30" width="5.4" height="5.4" fill="#a2a2a2" stroke="#222" stroke-width="1.2"/>
<rect x="102.00" y="361.90" width="5.4" height="5.4" fill="#a2a2a2" stroke="#222" stroke-width="1.2"/>
<rect x="111.90" y="360.90" width="5.4" height="5.4" fill="#a2a2a2" stroke="#222" stroke-width="1.2"/>
<rect x="119.90" y="359.30" width="5.4" height="5.4" fill="#a2a2a2" stroke="#222" stroke-width="1.2"/>
<rect x="121.30" y="362.90" width="5.4" height="5.4" fill="#a2a2a2" stroke="#222" stroke-width="1.2"/>
<rect x="108.60" y="366.90" width="5.4" height="5.4" fill="#a2a2a2" stroke="#222" stroke-width="1.2"/>
<rect x="115.30" y="369.60" width="5.4" height="5.4" fill="#a2a2a2" stroke="#222" stroke-width="1.2"/>
<rect x="111.60" y="378.60" width="5.4" height="5.4" fill="#a2a2a2" stroke="#222" stroke-width="1.2"/>
<line x1="75.90" y1="297.80" x2="116.00" y2="297.80" stroke="#000" stroke-width="1.5" stroke-linecap="butt"/>
<polygon points="95.60,288.95 96.39,290.66 98.26,290.88 96.88,292.17 97.25,294.02 95.60,293.10 93.95,294.02 94.32,292.17 92.94,290.88 94.81,290.66" fill="#000"/>
<polygon points="101.20,288.95 101.99,290.66 103.86,290.88 102.48,292.17 102.85,294.02 101.20,293.10 99.55,294.02 99.92,292.17 98.54,290.88 100.41,290.66" fill="#000"/>
<text x="75.70" y="413.60" font-size="10.8" font-weight="bold" text-anchor="middle" fill="#000" >-</text>
<text x="112.70" y="413.60" font-size="10.8" font-weight="bold" text-anchor="middle" fill="#000" >+</text>
<text x="137.00" y="413.60" font-size="11.0" font-weight="bold" text-anchor="start" fill="#000" >shRit2</text>
<line x1="224.60" y1="389.52" x2="227.90" y2="389.52" stroke="#000" stroke-width="1.4" stroke-linecap="butt"/>
<line x1="224.60" y1="365.76" x2="227.90" y2="365.76" stroke="#000" stroke-width="1.4" stroke-linecap="butt"/>
<line x1="224.60" y1="342.00" x2="227.90" y2="342.00" stroke="#000" stroke-width="1.4" stroke-linecap="butt"/>
<line x1="224.60" y1="318.24" x2="227.90" y2="318.24" stroke="#000" stroke-width="1.4" stroke-linecap="butt"/>
<line x1="224.60" y1="294.48" x2="227.90" y2="294.48" stroke="#000" stroke-width="1.4" stroke-linecap="butt"/>
<line x1="224.60" y1="270.72" x2="227.90" y2="270.72" stroke="#000" stroke-width="1.4" stroke-linecap="butt"/>
<line x1="223.30" y1="401.40" x2="227.90" y2="401.40" stroke="#000" stroke-width="1.4" stroke-linecap="butt"/>
<text x="218.20" y="406.30" font-size="10.6" font-weight="bold" text-anchor="end" fill="#000" >0</text>
<line x1="223.30" y1="377.64" x2="227.90" y2="377.64" stroke="#000" stroke-width="1.4" stroke-linecap="butt"/>
<text x="218.20" y="382.54" font-size="10.6" font-weight="bold" text-anchor="end" fill="#000" >50</text>
<line x1="223.30" y1="353.88" x2="227.90" y2="353.88" stroke="#000" stroke-width="1.4" stroke-linecap="butt"/>
<text x="218.20" y="358.78" font-size="10.6" font-weight="bold" text-anchor="end" fill="#000" >100</text>
<line x1="223.30" y1="330.12" x2="227.90" y2="330.12" stroke="#000" stroke-width="1.4" stroke-linecap="butt"/>
<text x="218.20" y="335.02" font-size="10.6" font-weight="bold" text-anchor="end" fill="#000" >150</text>
<line x1="223.30" y1="306.36" x2="227.90" y2="306.36" stroke="#000" stroke-width="1.4" stroke-linecap="butt"/>
<text x="218.20" y="311.26" font-size="10.6" font-weight="bold" text-anchor="end" fill="#000" >200</text>
<line x1="223.30" y1="282.60" x2="227.90" y2="282.60" stroke="#000" stroke-width="1.4" stroke-linecap="butt"/>
<text x="218.20" y="287.50" font-size="10.6" font-weight="bold" text-anchor="end" fill="#000" >250</text>
<line x1="227.90" y1="270.02" x2="227.90" y2="402.15" stroke="#000" stroke-width="1.55" stroke-linecap="butt"/>
<line x1="227.20" y1="401.40" x2="314.50" y2="401.40" stroke="#000" stroke-width="1.55" stroke-linecap="butt"/>
<line x1="252.50" y1="349.30" x2="252.50" y2="322.20" stroke="#000" stroke-width="1.3" stroke-linecap="butt"/>
<line x1="245.70" y1="322.20" x2="259.40" y2="322.20" stroke="#000" stroke-width="1.3" stroke-linecap="butt"/>
<rect x="239.3" y="349.3" width="26.5" height="52" fill="#000"/>
<circle cx="252.50" cy="282.70" r="2.8" fill="#fff" stroke="#9a9a9a" stroke-width="1"/>
<circle cx="252.50" cy="314.40" r="2.8" fill="#fff" stroke="#9a9a9a" stroke-width="1"/>
<circle cx="240.80" cy="342.20" r="2.8" fill="#fff" stroke="#9a9a9a" stroke-width="1"/>
<circle cx="252.50" cy="342.40" r="2.8" fill="#fff" stroke="#9a9a9a" stroke-width="1"/>
<circle cx="260.40" cy="339.50" r="2.8" fill="#fff" stroke="#9a9a9a" stroke-width="1"/>
<circle cx="244.50" cy="348.60" r="2.8" fill="#fff" stroke="#9a9a9a" stroke-width="1"/>
<circle cx="260.40" cy="349.20" r="2.8" fill="#fff" stroke="#9a9a9a" stroke-width="1"/>
<circle cx="252.50" cy="355.00" r="2.8" fill="#fff" stroke="#9a9a9a" stroke-width="1"/>
<circle cx="252.50" cy="368.70" r="2.8" fill="#fff" stroke="#9a9a9a" stroke-width="1"/>
<circle cx="243.00" cy="373.50" r="2.8" fill="#fff" stroke="#9a9a9a" stroke-width="1"/>
<circle cx="261.80" cy="371.10" r="2.8" fill="#fff" stroke="#9a9a9a" stroke-width="1"/>
<circle cx="249.40" cy="377.50" r="2.8" fill="#fff" stroke="#9a9a9a" stroke-width="1"/>
<circle cx="255.80" cy="376.10" r="2.8" fill="#fff" stroke="#9a9a9a" stroke-width="1"/>
<rect x="277.6" y="354.4" width="24.8" height="47" fill="#fff" stroke="#000" stroke-width="1.6"/>
<line x1="290.00" y1="334.70" x2="290.00" y2="372.40" stroke="#000" stroke-width="1.3" stroke-linecap="butt"/>
<line x1="283.10" y1="334.70" x2="296.70" y2="334.70" stroke="#000" stroke-width="1.3" stroke-linecap="butt"/>
<line x1="283.40" y1="372.40" x2="296.30" y2="372.40" stroke="#000" stroke-width="1.3" stroke-linecap="butt"/>
<rect x="287.20" y="316.80" width="5.4" height="5.4" fill="#a2a2a2" stroke="#222" stroke-width="1.2"/>
<rect x="279.10" y="337.30" width="5.4" height="5.4" fill="#a2a2a2" stroke="#222" stroke-width="1.2"/>
<rect x="295.20" y="341.30" width="5.4" height="5.4" fill="#a2a2a2" stroke="#222" stroke-width="1.2"/>
<rect x="287.20" y="345.20" width="5.4" height="5.4" fill="#a2a2a2" stroke="#222" stroke-width="1.2"/>
<rect x="287.20" y="361.70" width="5.4" height="5.4" fill="#a2a2a2" stroke="#222" stroke-width="1.2"/>
<rect x="279.10" y="366.60" width="5.4" height="5.4" fill="#a2a2a2" stroke="#222" stroke-width="1.2"/>
<rect x="295.20" y="367.10" width="5.4" height="5.4" fill="#a2a2a2" stroke="#222" stroke-width="1.2"/>
<rect x="287.20" y="371.20" width="5.4" height="5.4" fill="#a2a2a2" stroke="#222" stroke-width="1.2"/>
<text x="249.00" y="413.60" font-size="10.8" font-weight="bold" text-anchor="middle" fill="#000" >-</text>
<text x="285.50" y="413.60" font-size="10.8" font-weight="bold" text-anchor="middle" fill="#000" >+</text>
<text x="309.20" y="413.60" font-size="11.0" font-weight="bold" text-anchor="start" fill="#000" >shRit2</text>
<line x1="389.50" y1="382.32" x2="392.80" y2="382.32" stroke="#000" stroke-width="1.4" stroke-linecap="butt"/>
<line x1="389.50" y1="345.15" x2="392.80" y2="345.15" stroke="#000" stroke-width="1.4" stroke-linecap="butt"/>
<line x1="389.50" y1="307.99" x2="392.80" y2="307.99" stroke="#000" stroke-width="1.4" stroke-linecap="butt"/>
<line x1="389.50" y1="270.82" x2="392.80" y2="270.82" stroke="#000" stroke-width="1.4" stroke-linecap="butt"/>
<line x1="388.20" y1="400.90" x2="392.80" y2="400.90" stroke="#000" stroke-width="1.4" stroke-linecap="butt"/>
<text x="384.10" y="405.10" font-size="10.6" font-weight="bold" text-anchor="end" fill="#000" >0</text>
<line x1="388.20" y1="363.73" x2="392.80" y2="363.73" stroke="#000" stroke-width="1.4" stroke-linecap="butt"/>
<text x="384.10" y="367.93" font-size="10.6" font-weight="bold" text-anchor="end" fill="#000" >50</text>
<line x1="388.20" y1="326.57" x2="392.80" y2="326.57" stroke="#000" stroke-width="1.4" stroke-linecap="butt"/>
<text x="384.10" y="330.77" font-size="10.6" font-weight="bold" text-anchor="end" fill="#000" >100</text>
<line x1="388.20" y1="289.40" x2="392.80" y2="289.40" stroke="#000" stroke-width="1.4" stroke-linecap="butt"/>
<text x="384.10" y="293.60" font-size="10.6" font-weight="bold" text-anchor="end" fill="#000" >150</text>
<line x1="392.80" y1="270.12" x2="392.80" y2="401.65" stroke="#000" stroke-width="1.55" stroke-linecap="butt"/>
<line x1="392.10" y1="400.90" x2="479.40" y2="400.90" stroke="#000" stroke-width="1.55" stroke-linecap="butt"/>
<line x1="417.60" y1="316.30" x2="417.60" y2="305.30" stroke="#000" stroke-width="1.3" stroke-linecap="butt"/>
<line x1="411.00" y1="305.30" x2="424.50" y2="305.30" stroke="#000" stroke-width="1.3" stroke-linecap="butt"/>
<rect x="404.5" y="316.3" width="26.5" height="85" fill="#000"/>
<circle cx="417.60" cy="301.30" r="2.8" fill="#fff" stroke="#9a9a9a" stroke-width="1"/>
<circle cx="418.00" cy="311.30" r="2.8" fill="#fff" stroke="#9a9a9a" stroke-width="1"/>
<circle cx="413.70" cy="315.00" r="2.8" fill="#fff" stroke="#9a9a9a" stroke-width="1"/>
<circle cx="421.60" cy="322.00" r="2.8" fill="#fff" stroke="#9a9a9a" stroke-width="1"/>
<circle cx="417.60" cy="330.00" r="2.8" fill="#fff" stroke="#9a9a9a" stroke-width="1"/>
<rect x="443.1" y="341.7" width="24.5" height="60" fill="#fff" stroke="#000" stroke-width="1.6"/>
<line x1="455.00" y1="323.80" x2="455.00" y2="353.00" stroke="#000" stroke-width="1.3" stroke-linecap="butt"/>
<line x1="449.20" y1="323.80" x2="461.60" y2="323.80" stroke="#000" stroke-width="1.3" stroke-linecap="butt"/>
<rect x="456.30" y="314.30" width="5.4" height="5.4" fill="#a2a2a2" stroke="#222" stroke-width="1.2"/>
<rect x="448.30" y="318.20" width="5.4" height="5.4" fill="#a2a2a2" stroke="#222" stroke-width="1.2"/>
<rect x="452.20" y="333.00" width="5.4" height="5.4" fill="#a2a2a2" stroke="#222" stroke-width="1.2"/>
<rect x="452.20" y="341.30" width="5.4" height="5.4" fill="#a2a2a2" stroke="#222" stroke-width="1.2"/>
<rect x="452.20" y="349.90" width="5.4" height="5.4" fill="#a2a2a2" stroke="#222" stroke-width="1.2"/>
<rect x="455.90" y="353.20" width="5.4" height="5.4" fill="#a2a2a2" stroke="#222" stroke-width="1.2"/>
<rect x="448.30" y="359.20" width="5.4" height="5.4" fill="#a2a2a2" stroke="#222" stroke-width="1.2"/>
<line x1="428.60" y1="286.20" x2="468.20" y2="286.20" stroke="#000" stroke-width="1.5" stroke-linecap="butt"/>
<polygon points="447.90,277.55 448.69,279.26 450.56,279.48 449.18,280.77 449.55,282.62 447.90,281.70 446.25,282.62 446.62,280.77 445.24,279.48 447.11,279.26" fill="#000"/>
<text x="418.50" y="413.60" font-size="10.8" font-weight="bold" text-anchor="middle" fill="#000" >-</text>
<text x="455.30" y="413.60" font-size="10.8" font-weight="bold" text-anchor="middle" fill="#000" >+</text>
<text x="479.20" y="413.60" font-size="11.0" font-weight="bold" text-anchor="start" fill="#000" >shRit2</text>
<line x1="553.50" y1="382.32" x2="556.80" y2="382.32" stroke="#000" stroke-width="1.4" stroke-linecap="butt"/>
<line x1="553.50" y1="345.15" x2="556.80" y2="345.15" stroke="#000" stroke-width="1.4" stroke-linecap="butt"/>
<line x1="553.50" y1="307.99" x2="556.80" y2="307.99" stroke="#000" stroke-width="1.4" stroke-linecap="butt"/>
<line x1="553.50" y1="270.82" x2="556.80" y2="270.82" stroke="#000" stroke-width="1.4" stroke-linecap="butt"/>
<line x1="552.20" y1="400.90" x2="556.80" y2="400.90" stroke="#000" stroke-width="1.4" stroke-linecap="butt"/>
<text x="548.10" y="405.10" font-size="10.6" font-weight="bold" text-anchor="end" fill="#000" >0</text>
<line x1="552.20" y1="363.73" x2="556.80" y2="363.73" stroke="#000" stroke-width="1.4" stroke-linecap="butt"/>
<text x="548.10" y="367.93" font-size="10.6" font-weight="bold" text-anchor="end" fill="#000" >50</text>
<line x1="552.20" y1="326.57" x2="556.80" y2="326.57" stroke="#000" stroke-width="1.4" stroke-linecap="butt"/>
<text x="548.10" y="330.77" font-size="10.6" font-weight="bold" text-anchor="end" fill="#000" >100</text>
<line x1="552.20" y1="289.40" x2="556.80" y2="289.40" stroke="#000" stroke-width="1.4" stroke-linecap="butt"/>
<text x="548.10" y="293.60" font-size="10.6" font-weight="bold" text-anchor="end" fill="#000" >150</text>
<line x1="556.80" y1="270.12" x2="556.80" y2="401.65" stroke="#000" stroke-width="1.55" stroke-linecap="butt"/>
<line x1="556.10" y1="400.90" x2="643.80" y2="400.90" stroke="#000" stroke-width="1.55" stroke-linecap="butt"/>
<line x1="581.80" y1="335.10" x2="581.80" y2="304.60" stroke="#000" stroke-width="1.3" stroke-linecap="butt"/>
<line x1="575.00" y1="304.60" x2="588.50" y2="304.60" stroke="#000" stroke-width="1.3" stroke-linecap="butt"/>
<rect x="568.5" y="335.1" width="26.4" height="66" fill="#000"/>
<circle cx="581.80" cy="282.50" r="2.8" fill="#fff" stroke="#9a9a9a" stroke-width="1"/>
<circle cx="581.80" cy="339.40" r="2.8" fill="#fff" stroke="#9a9a9a" stroke-width="1"/>
<circle cx="578.00" cy="344.20" r="2.8" fill="#fff" stroke="#9a9a9a" stroke-width="1"/>
<circle cx="586.00" cy="349.90" r="2.8" fill="#fff" stroke="#9a9a9a" stroke-width="1"/>
<circle cx="581.80" cy="358.10" r="2.8" fill="#fff" stroke="#9a9a9a" stroke-width="1"/>
<rect x="607.3" y="331.6" width="24.5" height="70" fill="#fff" stroke="#000" stroke-width="1.6"/>
<line x1="619.20" y1="318.00" x2="619.20" y2="344.40" stroke="#000" stroke-width="1.2" stroke-linecap="butt"/>
<line x1="612.60" y1="318.00" x2="625.20" y2="318.00" stroke="#000" stroke-width="1.2" stroke-linecap="butt"/>
<line x1="612.60" y1="344.40" x2="625.60" y2="344.40" stroke="#000" stroke-width="1.2" stroke-linecap="butt"/>
<rect x="616.50" y="312.70" width="5.4" height="5.4" fill="#a2a2a2" stroke="#222" stroke-width="1.2"/>
<rect x="620.40" y="317.20" width="5.4" height="5.4" fill="#a2a2a2" stroke="#222" stroke-width="1.2"/>
<rect x="612.40" y="321.70" width="5.4" height="5.4" fill="#a2a2a2" stroke="#222" stroke-width="1.2"/>
<rect x="612.40" y="334.00" width="5.4" height="5.4" fill="#a2a2a2" stroke="#222" stroke-width="1.2"/>
<rect x="620.40" y="337.40" width="5.4" height="5.4" fill="#a2a2a2" stroke="#222" stroke-width="1.2"/>
<rect x="616.50" y="347.20" width="5.4" height="5.4" fill="#a2a2a2" stroke="#222" stroke-width="1.2"/>
<text x="582.00" y="413.60" font-size="10.8" font-weight="bold" text-anchor="middle" fill="#000" >-</text>
<text x="619.00" y="413.60" font-size="10.8" font-weight="bold" text-anchor="middle" fill="#000" >+</text>
<text x="643.40" y="413.60" font-size="11.0" font-weight="bold" text-anchor="start" fill="#000" >shRit2</text>
<line x1="53.70" y1="573.04" x2="56.60" y2="573.04" stroke="#000" stroke-width="1.4" stroke-linecap="butt"/>
<line x1="53.70" y1="546.92" x2="56.60" y2="546.92" stroke="#000" stroke-width="1.4" stroke-linecap="butt"/>
<line x1="53.70" y1="520.80" x2="56.60" y2="520.80" stroke="#000" stroke-width="1.4" stroke-linecap="butt"/>
<line x1="53.70" y1="494.68" x2="56.60" y2="494.68" stroke="#000" stroke-width="1.4" stroke-linecap="butt"/>
<line x1="53.70" y1="468.56" x2="56.60" y2="468.56" stroke="#000" stroke-width="1.4" stroke-linecap="butt"/>
<line x1="52.00" y1="586.10" x2="56.60" y2="586.10" stroke="#000" stroke-width="1.4" stroke-linecap="butt"/>
<text x="49.20" y="591.30" font-size="10.6" font-weight="bold" text-anchor="end" fill="#000" >0</text>
<line x1="52.00" y1="559.98" x2="56.60" y2="559.98" stroke="#000" stroke-width="1.4" stroke-linecap="butt"/>
<text x="49.20" y="565.18" font-size="10.6" font-weight="bold" text-anchor="end" fill="#000" >200</text>
<line x1="52.00" y1="533.86" x2="56.60" y2="533.86" stroke="#000" stroke-width="1.4" stroke-linecap="butt"/>
<text x="49.20" y="539.06" font-size="10.6" font-weight="bold" text-anchor="end" fill="#000" >400</text>
<line x1="52.00" y1="507.74" x2="56.60" y2="507.74" stroke="#000" stroke-width="1.4" stroke-linecap="butt"/>
<text x="49.20" y="512.94" font-size="10.6" font-weight="bold" text-anchor="end" fill="#000" >600</text>
<line x1="52.00" y1="481.62" x2="56.60" y2="481.62" stroke="#000" stroke-width="1.4" stroke-linecap="butt"/>
<text x="49.20" y="486.82" font-size="10.6" font-weight="bold" text-anchor="end" fill="#000" >800</text>
<line x1="52.00" y1="455.50" x2="56.60" y2="455.50" stroke="#000" stroke-width="1.4" stroke-linecap="butt"/>
<text x="49.20" y="460.70" font-size="10.6" font-weight="bold" text-anchor="end" fill="#000" >1000</text>
<line x1="56.60" y1="454.80" x2="56.60" y2="586.85" stroke="#000" stroke-width="1.55" stroke-linecap="butt"/>
<line x1="55.90" y1="586.10" x2="144.00" y2="586.10" stroke="#000" stroke-width="1.55" stroke-linecap="butt"/>
<line x1="68.10" y1="536.00" x2="85.70" y2="528.00" stroke="#000" stroke-width="1.4" stroke-linecap="butt"/>
<line x1="68.10" y1="543.90" x2="85.70" y2="531.50" stroke="#000" stroke-width="1.4" stroke-linecap="butt"/>
<line x1="68.10" y1="552.40" x2="85.70" y2="524.20" stroke="#000" stroke-width="1.4" stroke-linecap="butt"/>
<line x1="68.10" y1="555.90" x2="85.70" y2="535.40" stroke="#000" stroke-width="1.4" stroke-linecap="butt"/>
<line x1="68.10" y1="555.90" x2="85.70" y2="543.90" stroke="#000" stroke-width="1.4" stroke-linecap="butt"/>
<line x1="68.10" y1="569.60" x2="85.70" y2="569.30" stroke="#000" stroke-width="1.4" stroke-linecap="butt"/>
<circle cx="68.10" cy="536.00" r="2.6" fill="#000"/>
<circle cx="68.10" cy="543.90" r="2.6" fill="#000"/>
<circle cx="68.10" cy="552.40" r="2.6" fill="#000"/>
<circle cx="68.10" cy="555.90" r="2.6" fill="#000"/>
<circle cx="68.10" cy="555.90" r="2.6" fill="#000"/>
<circle cx="68.10" cy="569.60" r="2.6" fill="#000"/>
<rect x="83.10" y="525.40" width="5.2" height="5.2" fill="#fff" stroke="#000" stroke-width="1.2"/>
<rect x="83.10" y="528.90" width="5.2" height="5.2" fill="#fff" stroke="#000" stroke-width="1.2"/>
<rect x="83.10" y="521.60" width="5.2" height="5.2" fill="#fff" stroke="#000" stroke-width="1.2"/>
<rect x="83.10" y="532.80" width="5.2" height="5.2" fill="#fff" stroke="#000" stroke-width="1.2"/>
<rect x="83.10" y="541.30" width="5.2" height="5.2" fill="#fff" stroke="#000" stroke-width="1.2"/>
<rect x="83.10" y="566.70" width="5.2" height="5.2" fill="#fff" stroke="#000" stroke-width="1.2"/>
<line x1="114.60" y1="473.00" x2="132.20" y2="501.20" stroke="#000" stroke-width="1.4" stroke-linecap="butt"/>
<line x1="114.60" y1="504.90" x2="132.20" y2="484.40" stroke="#000" stroke-width="1.4" stroke-linecap="butt"/>
<line x1="114.60" y1="529.90" x2="132.20" y2="531.40" stroke="#000" stroke-width="1.4" stroke-linecap="butt"/>
<line x1="114.60" y1="545.10" x2="132.20" y2="503.40" stroke="#000" stroke-width="1.4" stroke-linecap="butt"/>
<line x1="114.60" y1="554.30" x2="132.20" y2="543.30" stroke="#000" stroke-width="1.4" stroke-linecap="butt"/>
<circle cx="114.60" cy="473.00" r="2.6" fill="#000"/>
<circle cx="114.60" cy="504.90" r="2.6" fill="#000"/>
<circle cx="114.60" cy="529.90" r="2.6" fill="#000"/>
<circle cx="114.60" cy="545.10" r="2.6" fill="#000"/>
<circle cx="114.60" cy="554.30" r="2.6" fill="#000"/>
<rect x="129.60" y="498.60" width="5.2" height="5.2" fill="#fff" stroke="#000" stroke-width="1.2"/>
<rect x="129.60" y="481.80" width="5.2" height="5.2" fill="#fff" stroke="#000" stroke-width="1.2"/>
<rect x="129.60" y="528.80" width="5.2" height="5.2" fill="#fff" stroke="#000" stroke-width="1.2"/>
<rect x="129.60" y="500.80" width="5.2" height="5.2" fill="#fff" stroke="#000" stroke-width="1.2"/>
<rect x="129.60" y="540.70" width="5.2" height="5.2" fill="#fff" stroke="#000" stroke-width="1.2"/>
<line x1="67.00" y1="507.40" x2="88.10" y2="507.40" stroke="#000" stroke-width="1.5" stroke-linecap="butt"/>
<polygon points="77.50,498.85 78.29,500.56 80.16,500.78 78.78,502.07 79.15,503.92 77.50,503.00 75.85,503.92 76.22,502.07 74.84,500.78 76.71,500.56" fill="#000"/>
<text x="78.80" y="599.40" font-size="10.8" font-weight="bold" text-anchor="middle" fill="#000" >-</text>
<text x="125.90" y="599.40" font-size="10.8" font-weight="bold" text-anchor="middle" fill="#000" >+</text>
<text x="149.20" y="599.30" font-size="11.0" font-weight="bold" text-anchor="start" fill="#000" >shRit2</text>
<line x1="219.80" y1="573.04" x2="222.70" y2="573.04" stroke="#000" stroke-width="1.4" stroke-linecap="butt"/>
<line x1="219.80" y1="546.92" x2="222.70" y2="546.92" stroke="#000" stroke-width="1.4" stroke-linecap="butt"/>
<line x1="219.80" y1="520.80" x2="222.70" y2="520.80" stroke="#000" stroke-width="1.4" stroke-linecap="butt"/>
<line x1="219.80" y1="494.68" x2="222.70" y2="494.68" stroke="#000" stroke-width="1.4" stroke-linecap="butt"/>
<line x1="219.80" y1="468.56" x2="222.70" y2="468.56" stroke="#000" stroke-width="1.4" stroke-linecap="butt"/>
<line x1="218.10" y1="586.10" x2="222.70" y2="586.10" stroke="#000" stroke-width="1.4" stroke-linecap="butt"/>
<text x="215.30" y="591.30" font-size="10.6" font-weight="bold" text-anchor="end" fill="#000" >0</text>
<line x1="218.10" y1="559.98" x2="222.70" y2="559.98" stroke="#000" stroke-width="1.4" stroke-linecap="butt"/>
<text x="215.30" y="565.18" font-size="10.6" font-weight="bold" text-anchor="end" fill="#000" >200</text>
<line x1="218.10" y1="533.86" x2="222.70" y2="533.86" stroke="#000" stroke-width="1.4" stroke-linecap="butt"/>
<text x="215.30" y="539.06" font-size="10.6" font-weight="bold" text-anchor="end" fill="#000" >400</text>
<line x1="218.10" y1="507.74" x2="222.70" y2="507.74" stroke="#000" stroke-width="1.4" stroke-linecap="butt"/>
<text x="215.30" y="512.94" font-size="10.6" font-weight="bold" text-anchor="end" fill="#000" >600</text>
<line x1="218.10" y1="481.62" x2="222.70" y2="481.62" stroke="#000" stroke-width="1.4" stroke-linecap="butt"/>
<text x="215.30" y="486.82" font-size="10.6" font-weight="bold" text-anchor="end" fill="#000" >800</text>
<line x1="218.10" y1="455.50" x2="222.70" y2="455.50" stroke="#000" stroke-width="1.4" stroke-linecap="butt"/>
<text x="215.30" y="460.70" font-size="10.6" font-weight="bold" text-anchor="end" fill="#000" >1000</text>
<line x1="222.70" y1="454.80" x2="222.70" y2="586.85" stroke="#000" stroke-width="1.55" stroke-linecap="butt"/>
<line x1="222.00" y1="586.10" x2="309.80" y2="586.10" stroke="#000" stroke-width="1.55" stroke-linecap="butt"/>
<line x1="234.30" y1="486.10" x2="251.80" y2="521.90" stroke="#000" stroke-width="1.4" stroke-linecap="butt"/>
<line x1="234.30" y1="497.80" x2="251.80" y2="497.10" stroke="#000" stroke-width="1.4" stroke-linecap="butt"/>
<line x1="234.30" y1="526.90" x2="251.80" y2="534.30" stroke="#000" stroke-width="1.4" stroke-linecap="butt"/>
<line x1="234.30" y1="537.30" x2="251.80" y2="529.90" stroke="#000" stroke-width="1.4" stroke-linecap="butt"/>
<line x1="234.30" y1="544.00" x2="251.80" y2="534.30" stroke="#000" stroke-width="1.4" stroke-linecap="butt"/>
<circle cx="234.30" cy="486.10" r="2.6" fill="#000"/>
<circle cx="234.30" cy="497.80" r="2.6" fill="#000"/>
<circle cx="234.30" cy="526.90" r="2.6" fill="#000"/>
<circle cx="234.30" cy="537.30" r="2.6" fill="#000"/>
<circle cx="234.30" cy="544.00" r="2.6" fill="#000"/>
<rect x="249.20" y="519.30" width="5.2" height="5.2" fill="#fff" stroke="#000" stroke-width="1.2"/>
<rect x="249.20" y="494.50" width="5.2" height="5.2" fill="#fff" stroke="#000" stroke-width="1.2"/>
<rect x="249.20" y="531.70" width="5.2" height="5.2" fill="#fff" stroke="#000" stroke-width="1.2"/>
<rect x="249.20" y="527.30" width="5.2" height="5.2" fill="#fff" stroke="#000" stroke-width="1.2"/>
<rect x="249.20" y="531.70" width="5.2" height="5.2" fill="#fff" stroke="#000" stroke-width="1.2"/>
<line x1="280.90" y1="468.60" x2="298.40" y2="512.40" stroke="#000" stroke-width="1.4" stroke-linecap="butt"/>
<line x1="280.90" y1="484.10" x2="298.40" y2="503.20" stroke="#000" stroke-width="1.4" stroke-linecap="butt"/>
<line x1="280.90" y1="517.70" x2="298.40" y2="492.80" stroke="#000" stroke-width="1.4" stroke-linecap="butt"/>
<line x1="280.90" y1="533.50" x2="298.40" y2="539.80" stroke="#000" stroke-width="1.4" stroke-linecap="butt"/>
<line x1="280.90" y1="547.80" x2="298.40" y2="523.50" stroke="#000" stroke-width="1.4" stroke-linecap="butt"/>
<line x1="280.90" y1="547.80" x2="298.40" y2="541.80" stroke="#000" stroke-width="1.4" stroke-linecap="butt"/>
<circle cx="280.90" cy="468.60" r="2.6" fill="#000"/>
<circle cx="280.90" cy="484.10" r="2.6" fill="#000"/>
<circle cx="280.90" cy="517.70" r="2.6" fill="#000"/>
<circle cx="280.90" cy="533.50" r="2.6" fill="#000"/>
<circle cx="280.90" cy="547.80" r="2.6" fill="#000"/>
<circle cx="280.90" cy="547.80" r="2.6" fill="#000"/>
<rect x="295.80" y="509.80" width="5.2" height="5.2" fill="#fff" stroke="#000" stroke-width="1.2"/>
<rect x="295.80" y="500.60" width="5.2" height="5.2" fill="#fff" stroke="#000" stroke-width="1.2"/>
<rect x="295.80" y="490.20" width="5.2" height="5.2" fill="#fff" stroke="#000" stroke-width="1.2"/>
<rect x="295.80" y="537.20" width="5.2" height="5.2" fill="#fff" stroke="#000" stroke-width="1.2"/>
<rect x="295.80" y="520.90" width="5.2" height="5.2" fill="#fff" stroke="#000" stroke-width="1.2"/>
<rect x="295.80" y="539.20" width="5.2" height="5.2" fill="#fff" stroke="#000" stroke-width="1.2"/>
<text x="248.70" y="599.40" font-size="10.8" font-weight="bold" text-anchor="middle" fill="#000" >-</text>
<text x="295.40" y="599.40" font-size="10.8" font-weight="bold" text-anchor="middle" fill="#000" >+</text>
<text x="319.00" y="599.30" font-size="11.0" font-weight="bold" text-anchor="start" fill="#000" >shRit2</text>
<rect x="147.6" y="532.6" width="44.6" height="37.4" fill="#fff" stroke="#333" stroke-width="1.3"/>
<circle cx="157.5" cy="544.2" r="3.9" fill="#000"/>
<rect x="153.5" y="553.7" width="8" height="8" fill="#fff" stroke="#222" stroke-width="1.3"/>
<text x="166.80" y="547.10" font-size="11.2" font-weight="bold" text-anchor="start" fill="#000" >veh</text>
<text x="166.80" y="559.70" font-size="11.2" font-weight="bold" text-anchor="start" fill="#000" >coc</text>
</svg>
</body></html>
